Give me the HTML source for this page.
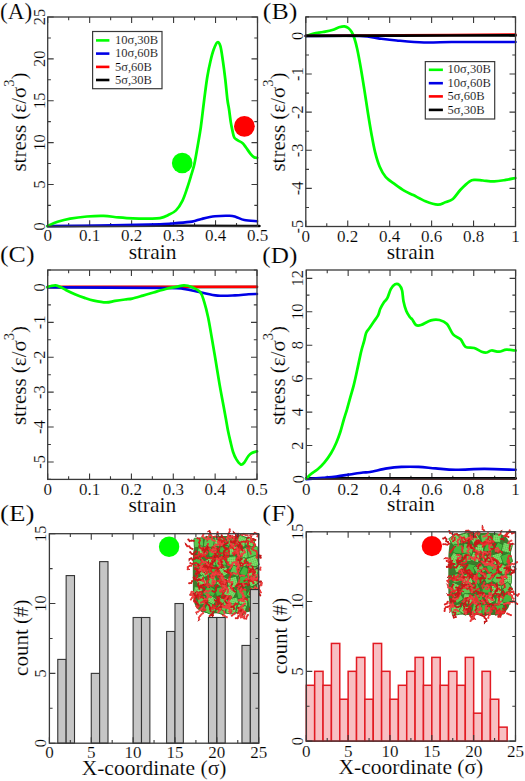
<!DOCTYPE html>
<html><head><meta charset="utf-8"><style>
html,body{margin:0;padding:0;background:#fff;width:525px;height:781px;overflow:hidden}
svg{display:block}
text{font-family:"Liberation Serif",serif;stroke:#fff;stroke-width:0.15px}
</style></head><body>
<svg width="525" height="781" viewBox="0 0 525 781" font-family="Liberation Serif, serif" fill="#000">
<defs><pattern id="cg" width="2" height="2" patternUnits="userSpaceOnUse"><rect width="2" height="2" fill="#52c848"/><path d="M0,0.5H2M0.5,0V2" stroke="#8ee07a" stroke-width="0.6"/></pattern></defs>
<rect width="525" height="781" fill="#fff"/>
<path d="M47.70,226.30L47.70,220.30 M47.70,17.00L47.70,23.00 M68.68,226.30L68.68,223.10 M68.68,17.00L68.68,20.20 M89.66,226.30L89.66,220.30 M89.66,17.00L89.66,23.00 M110.64,226.30L110.64,223.10 M110.64,17.00L110.64,20.20 M131.62,226.30L131.62,220.30 M131.62,17.00L131.62,23.00 M152.60,226.30L152.60,223.10 M152.60,17.00L152.60,20.20 M173.58,226.30L173.58,220.30 M173.58,17.00L173.58,23.00 M194.56,226.30L194.56,223.10 M194.56,17.00L194.56,20.20 M215.54,226.30L215.54,220.30 M215.54,17.00L215.54,23.00 M236.52,226.30L236.52,223.10 M236.52,17.00L236.52,20.20 M257.50,226.30L257.50,220.30 M257.50,17.00L257.50,23.00 M47.70,226.30L53.70,226.30 M257.50,226.30L251.50,226.30 M47.70,205.37L50.90,205.37 M257.50,205.37L254.30,205.37 M47.70,184.44L53.70,184.44 M257.50,184.44L251.50,184.44 M47.70,163.51L50.90,163.51 M257.50,163.51L254.30,163.51 M47.70,142.58L53.70,142.58 M257.50,142.58L251.50,142.58 M47.70,121.65L50.90,121.65 M257.50,121.65L254.30,121.65 M47.70,100.72L53.70,100.72 M257.50,100.72L251.50,100.72 M47.70,79.79L50.90,79.79 M257.50,79.79L254.30,79.79 M47.70,58.86L53.70,58.86 M257.50,58.86L251.50,58.86 M47.70,37.93L50.90,37.93 M257.50,37.93L254.30,37.93 M47.70,17.00L53.70,17.00 M257.50,17.00L251.50,17.00" stroke="#3a3a3a" stroke-width="1.1" fill="none"/>
<text x="47.70" y="241.30" text-anchor="middle" font-size="17.0">0</text>
<text x="89.66" y="241.30" text-anchor="middle" font-size="17.0">0.1</text>
<text x="131.62" y="241.30" text-anchor="middle" font-size="17.0">0.2</text>
<text x="173.58" y="241.30" text-anchor="middle" font-size="17.0">0.3</text>
<text x="215.54" y="241.30" text-anchor="middle" font-size="17.0">0.4</text>
<text x="257.50" y="241.30" text-anchor="middle" font-size="17.0">0.5</text>
<text x="44.90" y="226.30" text-anchor="middle" font-size="16.5" transform="rotate(-90 44.90 226.30)">0</text>
<text x="44.90" y="184.44" text-anchor="middle" font-size="16.5" transform="rotate(-90 44.90 184.44)">5</text>
<text x="44.90" y="142.58" text-anchor="middle" font-size="16.5" transform="rotate(-90 44.90 142.58)">10</text>
<text x="44.90" y="100.72" text-anchor="middle" font-size="16.5" transform="rotate(-90 44.90 100.72)">15</text>
<text x="44.90" y="58.86" text-anchor="middle" font-size="16.5" transform="rotate(-90 44.90 58.86)">20</text>
<text x="44.90" y="17.00" text-anchor="middle" font-size="16.5" transform="rotate(-90 44.90 17.00)">25</text>
<text x="152.60" y="258.60" text-anchor="middle" font-size="21.5">strain</text>
<text x="26.30" y="122.00" text-anchor="middle" font-size="21.0" transform="rotate(-90 26.30 122.00)">stress (&#949;/&#963;<tspan dy="-12" font-size="14.5">3</tspan><tspan dy="12">)</tspan></text>
<text x="0" y="19.4" font-size="23.5" textLength="32.2" lengthAdjust="spacingAndGlyphs">(A)</text>
<path d="M47.70,226.30 C66.42,226.22 126.28,225.85 160.00,225.80 C193.72,225.75 233.75,225.97 250.00,226.00 C266.25,226.03 256.25,226.00 257.50,226.00" fill="none" stroke="#000000" stroke-width="2.60" stroke-linejoin="round" stroke-linecap="round"/>
<path d="M47.70,226.00 C56.42,225.93 81.28,225.90 100.00,225.60 C118.72,225.30 147.60,224.60 160.00,224.20 C172.40,223.80 169.07,223.63 174.40,223.20 C179.73,222.77 187.47,222.32 192.00,221.60 C196.53,220.88 197.77,219.78 201.60,218.90 C205.43,218.02 210.32,216.82 215.00,216.30 C219.68,215.78 226.20,215.68 229.70,215.80 C233.20,215.92 233.57,216.30 236.00,217.00 C238.43,217.70 240.80,219.30 244.30,220.00 C247.80,220.70 254.88,221.00 257.00,221.20" fill="none" stroke="#0000e6" stroke-width="2.60" stroke-linejoin="round" stroke-linecap="round"/>
<path d="M47.50,226.00 C49.18,225.30 53.82,223.03 57.60,221.80 C61.38,220.57 65.32,219.48 70.20,218.60 C75.08,217.72 81.32,216.95 86.90,216.50 C92.48,216.05 98.45,215.75 103.70,215.90 C108.95,216.05 113.52,216.98 118.40,217.40 C123.28,217.82 127.77,218.20 133.00,218.40 C138.23,218.60 145.30,218.65 149.80,218.60 C154.30,218.55 156.97,218.67 160.00,218.10 C163.03,217.53 165.33,216.48 168.00,215.20 C170.67,213.92 173.60,212.80 176.00,210.40 C178.40,208.00 180.53,204.53 182.40,200.80 C184.27,197.07 185.73,192.27 187.20,188.00 C188.67,183.73 190.00,179.20 191.20,175.20 C192.40,171.20 193.33,168.80 194.40,164.00 C195.47,159.20 196.53,152.53 197.60,146.40 C198.67,140.27 199.85,133.77 200.80,127.20 C201.75,120.63 202.57,112.88 203.30,107.00 C204.03,101.12 204.50,97.10 205.20,91.90 C205.90,86.70 206.62,80.95 207.50,75.80 C208.38,70.65 209.48,65.33 210.50,61.00 C211.52,56.67 212.47,52.90 213.60,49.80 C214.73,46.70 216.17,43.02 217.30,42.40 C218.43,41.78 219.47,43.00 220.40,46.10 C221.33,49.20 222.08,55.43 222.90,61.00 C223.72,66.57 224.55,73.08 225.30,79.50 C226.05,85.92 226.78,94.58 227.40,99.50 C228.02,104.42 228.43,105.18 229.00,109.00 C229.57,112.82 230.20,118.67 230.80,122.40 C231.40,126.13 232.02,128.87 232.60,131.40 C233.18,133.93 233.42,136.10 234.30,137.60 C235.18,139.10 236.55,139.50 237.90,140.40 C239.25,141.30 241.05,141.82 242.40,143.00 C243.75,144.18 244.65,145.70 246.00,147.50 C247.35,149.30 249.15,152.18 250.50,153.80 C251.85,155.42 252.98,156.53 254.10,157.20 C255.22,157.87 256.68,157.70 257.20,157.80" fill="none" stroke="#00ff00" stroke-width="2.75" stroke-linejoin="round" stroke-linecap="round"/>
<circle cx="182.2" cy="163.0" r="10.3" fill="#00ff00"/>
<circle cx="244.4" cy="126.3" r="10.4" fill="#ff0000"/>
<rect x="92.60" y="31.50" width="69.40" height="57.20" fill="#fff" stroke="#3a3a3a" stroke-width="1.2"/>
<line x1="96.00" y1="40.40" x2="109.40" y2="40.40" stroke="#00ff00" stroke-width="2.6"/>
<text x="114.90" y="44.00" font-size="12.5">10&#963;,30B</text>
<line x1="96.00" y1="53.60" x2="109.40" y2="53.60" stroke="#0000e6" stroke-width="2.6"/>
<text x="114.90" y="57.20" font-size="12.5">10&#963;,60B</text>
<line x1="96.00" y1="66.90" x2="109.40" y2="66.90" stroke="#ff0000" stroke-width="2.6"/>
<text x="114.90" y="70.50" font-size="12.5">5&#963;,60B</text>
<line x1="96.00" y1="80.00" x2="109.40" y2="80.00" stroke="#000000" stroke-width="2.6"/>
<text x="114.90" y="83.60" font-size="12.5">5&#963;,30B</text>
<rect x="47.70" y="17.00" width="209.80" height="209.30" fill="none" stroke="#3a3a3a" stroke-width="1.3"/>
<path d="M305.80,226.50L305.80,220.50 M305.80,16.90L305.80,22.90 M326.77,226.50L326.77,223.30 M326.77,16.90L326.77,20.10 M347.74,226.50L347.74,220.50 M347.74,16.90L347.74,22.90 M368.71,226.50L368.71,223.30 M368.71,16.90L368.71,20.10 M389.68,226.50L389.68,220.50 M389.68,16.90L389.68,22.90 M410.65,226.50L410.65,223.30 M410.65,16.90L410.65,20.10 M431.62,226.50L431.62,220.50 M431.62,16.90L431.62,22.90 M452.59,226.50L452.59,223.30 M452.59,16.90L452.59,20.10 M473.56,226.50L473.56,220.50 M473.56,16.90L473.56,22.90 M494.53,226.50L494.53,223.30 M494.53,16.90L494.53,20.10 M515.50,226.50L515.50,220.50 M515.50,16.90L515.50,22.90 M305.80,226.50L311.80,226.50 M515.50,226.50L509.50,226.50 M305.80,207.45L309.00,207.45 M515.50,207.45L512.30,207.45 M305.80,188.39L311.80,188.39 M515.50,188.39L509.50,188.39 M305.80,169.34L309.00,169.34 M515.50,169.34L512.30,169.34 M305.80,150.28L311.80,150.28 M515.50,150.28L509.50,150.28 M305.80,131.23L309.00,131.23 M515.50,131.23L512.30,131.23 M305.80,112.17L311.80,112.17 M515.50,112.17L509.50,112.17 M305.80,93.12L309.00,93.12 M515.50,93.12L512.30,93.12 M305.80,74.06L311.80,74.06 M515.50,74.06L509.50,74.06 M305.80,55.01L309.00,55.01 M515.50,55.01L512.30,55.01 M305.80,35.95L311.80,35.95 M515.50,35.95L509.50,35.95 M305.80,16.90L309.00,16.90 M515.50,16.90L512.30,16.90" stroke="#3a3a3a" stroke-width="1.1" fill="none"/>
<text x="305.80" y="241.50" text-anchor="middle" font-size="17.0">0</text>
<text x="347.74" y="241.50" text-anchor="middle" font-size="17.0">0.2</text>
<text x="389.68" y="241.50" text-anchor="middle" font-size="17.0">0.4</text>
<text x="431.62" y="241.50" text-anchor="middle" font-size="17.0">0.6</text>
<text x="473.56" y="241.50" text-anchor="middle" font-size="17.0">0.8</text>
<text x="515.50" y="241.50" text-anchor="middle" font-size="17.0">1</text>
<text x="303.00" y="226.50" text-anchor="middle" font-size="16.5" transform="rotate(-90 303.00 226.50)">-5</text>
<text x="303.00" y="188.39" text-anchor="middle" font-size="16.5" transform="rotate(-90 303.00 188.39)">-4</text>
<text x="303.00" y="150.28" text-anchor="middle" font-size="16.5" transform="rotate(-90 303.00 150.28)">-3</text>
<text x="303.00" y="112.17" text-anchor="middle" font-size="16.5" transform="rotate(-90 303.00 112.17)">-2</text>
<text x="303.00" y="74.06" text-anchor="middle" font-size="16.5" transform="rotate(-90 303.00 74.06)">-1</text>
<text x="303.00" y="35.95" text-anchor="middle" font-size="16.5" transform="rotate(-90 303.00 35.95)">0</text>
<text x="410.65" y="258.80" text-anchor="middle" font-size="21.5">strain</text>
<text x="284.60" y="122.00" text-anchor="middle" font-size="21.0" transform="rotate(-90 284.60 122.00)">stress (&#949;/&#963;<tspan dy="-12" font-size="14.5">3</tspan><tspan dy="12">)</tspan></text>
<text x="262.8" y="19.2" font-size="23.5" textLength="34.5" lengthAdjust="spacingAndGlyphs">(B)</text>
<path d="M306.30,36.00 C307.53,35.62 310.92,34.37 313.70,33.70 C316.48,33.03 319.90,32.62 323.00,32.00 C326.10,31.38 329.63,30.78 332.30,30.00 C334.97,29.22 337.00,27.92 339.00,27.30 C341.00,26.68 342.75,26.18 344.30,26.30 C345.85,26.42 347.07,27.05 348.30,28.00 C349.53,28.95 350.70,30.33 351.70,32.00 C352.70,33.67 353.40,35.25 354.30,38.00 C355.20,40.75 356.02,43.52 357.10,48.50 C358.18,53.48 359.60,61.08 360.80,67.90 C362.00,74.72 363.12,81.93 364.30,89.40 C365.48,96.87 366.70,105.23 367.90,112.70 C369.10,120.17 370.30,127.62 371.50,134.20 C372.70,140.78 373.75,146.82 375.10,152.20 C376.45,157.58 377.82,162.33 379.60,166.50 C381.38,170.67 383.27,174.25 385.80,177.20 C388.33,180.15 391.75,181.97 394.80,184.20 C397.85,186.43 401.02,188.78 404.10,190.60 C407.18,192.42 409.73,193.33 413.30,195.10 C416.87,196.87 421.43,199.60 425.50,201.20 C429.57,202.80 434.40,204.52 437.70,204.70 C441.00,204.88 442.77,203.25 445.30,202.30 C447.83,201.35 450.37,201.08 452.90,199.00 C455.43,196.92 457.70,192.73 460.50,189.80 C463.30,186.87 467.28,183.05 469.70,181.40 C472.12,179.75 472.80,180.05 475.00,179.90 C477.20,179.75 479.68,180.25 482.90,180.50 C486.12,180.75 490.50,181.50 494.30,181.40 C498.10,181.30 502.22,180.47 505.70,179.90 C509.18,179.33 513.62,178.32 515.20,178.00" fill="none" stroke="#00ff00" stroke-width="2.75" stroke-linejoin="round" stroke-linecap="round"/>
<path d="M305.80,36.00 C314.83,35.98 347.92,35.50 360.00,35.90 C372.08,36.30 372.20,37.63 378.30,38.40 C384.40,39.17 388.98,39.82 396.60,40.50 C404.22,41.18 414.85,42.25 424.00,42.50 C433.15,42.75 441.83,42.08 451.50,42.00 C461.17,41.92 471.33,42.00 482.00,42.00 C492.67,42.00 509.92,42.00 515.50,42.00" fill="none" stroke="#0000e6" stroke-width="2.60" stroke-linejoin="round" stroke-linecap="round"/>
<path d="M305.80,35.90 C321.50,35.80 365.05,35.53 400.00,35.30 C434.95,35.07 496.25,34.63 515.50,34.50" fill="none" stroke="#ff0000" stroke-width="2.40" stroke-linejoin="round" stroke-linecap="round"/>
<path d="M305.80,35.90 C321.50,35.85 365.05,35.68 400.00,35.60 C434.95,35.52 496.25,35.43 515.50,35.40" fill="none" stroke="#000000" stroke-width="2.60" stroke-linejoin="round" stroke-linecap="round"/>
<rect x="425.30" y="61.60" width="69.40" height="57.40" fill="#fff" stroke="#3a3a3a" stroke-width="1.2"/>
<line x1="428.80" y1="69.80" x2="442.90" y2="69.80" stroke="#00ff00" stroke-width="2.6"/>
<text x="447.60" y="73.40" font-size="12.5">10&#963;,30B</text>
<line x1="428.80" y1="83.20" x2="442.90" y2="83.20" stroke="#0000e6" stroke-width="2.6"/>
<text x="447.60" y="86.80" font-size="12.5">10&#963;,60B</text>
<line x1="428.80" y1="96.40" x2="442.90" y2="96.40" stroke="#ff0000" stroke-width="2.6"/>
<text x="447.60" y="100.00" font-size="12.5">5&#963;,60B</text>
<line x1="428.80" y1="109.90" x2="442.90" y2="109.90" stroke="#000000" stroke-width="2.6"/>
<text x="447.60" y="113.50" font-size="12.5">5&#963;,30B</text>
<rect x="305.80" y="16.90" width="209.70" height="209.60" fill="none" stroke="#3a3a3a" stroke-width="1.3"/>
<path d="M47.70,479.40L47.70,473.40 M47.70,270.00L47.70,276.00 M68.63,479.40L68.63,476.20 M68.63,270.00L68.63,273.20 M89.56,479.40L89.56,473.40 M89.56,270.00L89.56,276.00 M110.49,479.40L110.49,476.20 M110.49,270.00L110.49,273.20 M131.42,479.40L131.42,473.40 M131.42,270.00L131.42,276.00 M152.35,479.40L152.35,476.20 M152.35,270.00L152.35,273.20 M173.28,479.40L173.28,473.40 M173.28,270.00L173.28,276.00 M194.21,479.40L194.21,476.20 M194.21,270.00L194.21,273.20 M215.14,479.40L215.14,473.40 M215.14,270.00L215.14,276.00 M236.07,479.40L236.07,476.20 M236.07,270.00L236.07,273.20 M257.00,479.40L257.00,473.40 M257.00,270.00L257.00,276.00 M47.70,479.40L50.90,479.40 M257.00,479.40L253.80,479.40 M47.70,461.95L53.70,461.95 M257.00,461.95L251.00,461.95 M47.70,444.50L50.90,444.50 M257.00,444.50L253.80,444.50 M47.70,427.05L53.70,427.05 M257.00,427.05L251.00,427.05 M47.70,409.60L50.90,409.60 M257.00,409.60L253.80,409.60 M47.70,392.15L53.70,392.15 M257.00,392.15L251.00,392.15 M47.70,374.70L50.90,374.70 M257.00,374.70L253.80,374.70 M47.70,357.25L53.70,357.25 M257.00,357.25L251.00,357.25 M47.70,339.80L50.90,339.80 M257.00,339.80L253.80,339.80 M47.70,322.35L53.70,322.35 M257.00,322.35L251.00,322.35 M47.70,304.90L50.90,304.90 M257.00,304.90L253.80,304.90 M47.70,287.45L53.70,287.45 M257.00,287.45L251.00,287.45 M47.70,270.00L50.90,270.00 M257.00,270.00L253.80,270.00" stroke="#3a3a3a" stroke-width="1.1" fill="none"/>
<text x="47.70" y="495.00" text-anchor="middle" font-size="17.0">0</text>
<text x="89.56" y="495.00" text-anchor="middle" font-size="17.0">0.1</text>
<text x="131.42" y="495.00" text-anchor="middle" font-size="17.0">0.2</text>
<text x="173.28" y="495.00" text-anchor="middle" font-size="17.0">0.3</text>
<text x="215.14" y="495.00" text-anchor="middle" font-size="17.0">0.4</text>
<text x="257.00" y="495.00" text-anchor="middle" font-size="17.0">0.5</text>
<text x="44.90" y="461.95" text-anchor="middle" font-size="16.5" transform="rotate(-90 44.90 461.95)">-5</text>
<text x="44.90" y="427.05" text-anchor="middle" font-size="16.5" transform="rotate(-90 44.90 427.05)">-4</text>
<text x="44.90" y="392.15" text-anchor="middle" font-size="16.5" transform="rotate(-90 44.90 392.15)">-3</text>
<text x="44.90" y="357.25" text-anchor="middle" font-size="16.5" transform="rotate(-90 44.90 357.25)">-2</text>
<text x="44.90" y="322.35" text-anchor="middle" font-size="16.5" transform="rotate(-90 44.90 322.35)">-1</text>
<text x="44.90" y="287.45" text-anchor="middle" font-size="16.5" transform="rotate(-90 44.90 287.45)">0</text>
<text x="152.35" y="511.70" text-anchor="middle" font-size="21.5">strain</text>
<text x="26.30" y="375.50" text-anchor="middle" font-size="21.0" transform="rotate(-90 26.30 375.50)">stress (&#949;/&#963;<tspan dy="-12" font-size="14.5">3</tspan><tspan dy="12">)</tspan></text>
<text x="0" y="261.6" font-size="23.5" textLength="34.5" lengthAdjust="spacingAndGlyphs">(C)</text>
<path d="M47.70,287.30 L257.00,287.00" fill="none" stroke="#000000" stroke-width="2.60" stroke-linejoin="round" stroke-linecap="round"/>
<path d="M47.70,286.70 L257.00,286.70" fill="none" stroke="#ff0000" stroke-width="2.40" stroke-linejoin="round" stroke-linecap="round"/>
<path d="M47.70,287.30 C67.25,287.42 142.28,287.72 165.00,288.00 C187.72,288.28 178.10,288.28 184.00,289.00 C189.90,289.72 194.78,291.20 200.40,292.30 C206.02,293.40 211.93,295.08 217.70,295.60 C223.47,296.12 229.87,295.63 235.00,295.40 C240.13,295.17 244.83,294.43 248.50,294.20 C252.17,293.97 255.58,294.03 257.00,294.00" fill="none" stroke="#0000e6" stroke-width="2.60" stroke-linejoin="round" stroke-linecap="round"/>
<path d="M47.30,287.20 C47.93,287.00 49.70,286.30 51.10,286.00 C52.50,285.70 54.18,285.25 55.70,285.40 C57.22,285.55 58.43,286.10 60.20,286.90 C61.97,287.70 63.75,288.93 66.30,290.20 C68.85,291.47 72.45,293.22 75.50,294.50 C78.55,295.78 81.55,296.88 84.60,297.90 C87.65,298.92 90.23,299.85 93.80,300.60 C97.37,301.35 102.45,302.35 106.00,302.40 C109.55,302.45 111.93,301.38 115.10,300.90 C118.27,300.42 122.15,299.88 125.00,299.50 C127.85,299.12 129.22,299.25 132.20,298.60 C135.18,297.95 139.35,296.62 142.90,295.60 C146.45,294.58 149.70,293.60 153.50,292.50 C157.30,291.40 161.88,289.93 165.70,289.00 C169.52,288.07 173.35,287.50 176.40,286.90 C179.45,286.30 181.47,285.40 184.00,285.40 C186.53,285.40 188.87,285.75 191.60,286.90 C194.33,288.05 198.30,289.80 200.40,292.30 C202.50,294.80 202.92,297.73 204.20,301.90 C205.48,306.07 206.82,311.20 208.10,317.30 C209.38,323.40 210.62,331.13 211.90,338.50 C213.18,345.87 214.52,353.82 215.80,361.50 C217.08,369.18 218.32,377.22 219.60,384.60 C220.88,391.98 222.42,399.90 223.50,405.80 C224.58,411.70 225.37,415.92 226.10,420.00 C226.83,424.08 227.18,426.73 227.90,430.30 C228.62,433.87 229.55,437.83 230.40,441.40 C231.25,444.97 232.00,448.70 233.00,451.70 C234.00,454.70 235.12,457.28 236.40,459.40 C237.68,461.52 239.42,463.83 240.70,464.40 C241.98,464.97 242.82,464.20 244.10,462.80 C245.38,461.40 247.12,457.63 248.40,456.00 C249.68,454.37 250.37,453.78 251.80,453.00 C253.23,452.22 256.13,451.58 257.00,451.30" fill="none" stroke="#00ff00" stroke-width="2.75" stroke-linejoin="round" stroke-linecap="round"/>
<rect x="47.70" y="270.00" width="209.30" height="209.40" fill="none" stroke="#3a3a3a" stroke-width="1.3"/>
<path d="M306.30,479.00L306.30,473.00 M306.30,270.00L306.30,276.00 M327.23,479.00L327.23,475.80 M327.23,270.00L327.23,273.20 M348.16,479.00L348.16,473.00 M348.16,270.00L348.16,276.00 M369.09,479.00L369.09,475.80 M369.09,270.00L369.09,273.20 M390.02,479.00L390.02,473.00 M390.02,270.00L390.02,276.00 M410.95,479.00L410.95,475.80 M410.95,270.00L410.95,273.20 M431.88,479.00L431.88,473.00 M431.88,270.00L431.88,276.00 M452.81,479.00L452.81,475.80 M452.81,270.00L452.81,273.20 M473.74,479.00L473.74,473.00 M473.74,270.00L473.74,276.00 M494.67,479.00L494.67,475.80 M494.67,270.00L494.67,273.20 M515.60,479.00L515.60,473.00 M515.60,270.00L515.60,276.00 M306.30,479.00L312.30,479.00 M515.60,479.00L509.60,479.00 M306.30,462.28L309.50,462.28 M515.60,462.28L512.40,462.28 M306.30,445.56L312.30,445.56 M515.60,445.56L509.60,445.56 M306.30,428.84L309.50,428.84 M515.60,428.84L512.40,428.84 M306.30,412.12L312.30,412.12 M515.60,412.12L509.60,412.12 M306.30,395.40L309.50,395.40 M515.60,395.40L512.40,395.40 M306.30,378.68L312.30,378.68 M515.60,378.68L509.60,378.68 M306.30,361.96L309.50,361.96 M515.60,361.96L512.40,361.96 M306.30,345.24L312.30,345.24 M515.60,345.24L509.60,345.24 M306.30,328.52L309.50,328.52 M515.60,328.52L512.40,328.52 M306.30,311.80L312.30,311.80 M515.60,311.80L509.60,311.80 M306.30,295.08L309.50,295.08 M515.60,295.08L512.40,295.08 M306.30,278.36L312.30,278.36 M515.60,278.36L509.60,278.36" stroke="#3a3a3a" stroke-width="1.1" fill="none"/>
<text x="306.30" y="494.60" text-anchor="middle" font-size="17.0">0</text>
<text x="348.16" y="494.60" text-anchor="middle" font-size="17.0">0.2</text>
<text x="390.02" y="494.60" text-anchor="middle" font-size="17.0">0.4</text>
<text x="431.88" y="494.60" text-anchor="middle" font-size="17.0">0.6</text>
<text x="473.74" y="494.60" text-anchor="middle" font-size="17.0">0.8</text>
<text x="515.60" y="494.60" text-anchor="middle" font-size="17.0">1</text>
<text x="303.50" y="479.00" text-anchor="middle" font-size="16.5" transform="rotate(-90 303.50 479.00)">0</text>
<text x="303.50" y="445.56" text-anchor="middle" font-size="16.5" transform="rotate(-90 303.50 445.56)">2</text>
<text x="303.50" y="412.12" text-anchor="middle" font-size="16.5" transform="rotate(-90 303.50 412.12)">4</text>
<text x="303.50" y="378.68" text-anchor="middle" font-size="16.5" transform="rotate(-90 303.50 378.68)">6</text>
<text x="303.50" y="345.24" text-anchor="middle" font-size="16.5" transform="rotate(-90 303.50 345.24)">8</text>
<text x="303.50" y="311.80" text-anchor="middle" font-size="16.5" transform="rotate(-90 303.50 311.80)">10</text>
<text x="303.50" y="278.36" text-anchor="middle" font-size="16.5" transform="rotate(-90 303.50 278.36)">12</text>
<text x="410.95" y="511.30" text-anchor="middle" font-size="21.5">strain</text>
<text x="284.60" y="375.50" text-anchor="middle" font-size="21.0" transform="rotate(-90 284.60 375.50)">stress (&#949;/&#963;<tspan dy="-12" font-size="14.5">3</tspan><tspan dy="12">)</tspan></text>
<text x="262.3" y="262.6" font-size="23.5" textLength="35" lengthAdjust="spacingAndGlyphs">(D)</text>
<path d="M306.30,478.60 L515.60,478.60" fill="none" stroke="#ff0000" stroke-width="2.40" stroke-linejoin="round" stroke-linecap="round"/>
<path d="M306.30,478.20 L515.60,478.20" fill="none" stroke="#000000" stroke-width="2.60" stroke-linejoin="round" stroke-linecap="round"/>
<path d="M306.30,479.20 C309.08,478.97 318.00,478.25 323.00,477.80 C328.00,477.35 331.85,477.05 336.30,476.50 C340.75,475.95 345.25,475.17 349.70,474.50 C354.15,473.83 359.62,472.92 363.00,472.50 C366.38,472.08 365.98,472.68 370.00,472.00 C374.02,471.32 381.87,469.25 387.10,468.40 C392.33,467.55 396.15,467.15 401.40,466.90 C406.65,466.65 412.88,466.65 418.60,466.90 C424.32,467.15 429.52,467.92 435.70,468.40 C441.88,468.88 447.60,469.72 455.70,469.80 C463.80,469.88 474.32,468.90 484.30,468.90 C494.28,468.90 510.38,469.65 515.60,469.80" fill="none" stroke="#0000e6" stroke-width="2.60" stroke-linejoin="round" stroke-linecap="round"/>
<path d="M306.30,478.70 C307.08,477.92 309.10,475.57 311.00,474.00 C312.90,472.43 315.48,471.18 317.70,469.30 C319.92,467.42 322.08,465.37 324.30,462.70 C326.52,460.03 329.00,456.63 331.00,453.30 C333.00,449.97 334.75,446.25 336.30,442.70 C337.85,439.15 339.07,435.78 340.30,432.00 C341.53,428.22 342.58,423.78 343.70,420.00 C344.82,416.22 345.90,413.08 347.00,409.30 C348.10,405.52 349.18,401.30 350.30,397.30 C351.42,393.30 352.58,389.72 353.70,385.30 C354.82,380.88 355.73,376.52 357.00,370.80 C358.27,365.08 360.12,355.93 361.30,351.00 C362.48,346.07 363.28,344.25 364.10,341.20 C364.92,338.15 365.27,334.93 366.20,332.70 C367.13,330.47 368.42,329.67 369.70,327.80 C370.98,325.93 372.48,323.62 373.90,321.50 C375.32,319.38 377.13,317.22 378.20,315.10 C379.27,312.98 379.37,310.90 380.30,308.80 C381.23,306.70 382.63,304.27 383.80,302.50 C384.97,300.73 386.13,300.43 387.30,298.20 C388.47,295.97 389.50,291.43 390.80,289.10 C392.10,286.77 393.68,284.90 395.10,284.20 C396.52,283.50 398.13,283.85 399.30,284.90 C400.47,285.95 401.40,287.78 402.10,290.50 C402.80,293.22 402.80,297.78 403.50,301.20 C404.20,304.62 405.22,308.32 406.30,311.00 C407.38,313.68 409.00,315.88 410.00,317.30 C411.00,318.72 411.30,318.22 412.30,319.50 C413.30,320.78 414.55,324.08 416.00,325.00 C417.45,325.92 418.52,325.78 421.00,325.00 C423.48,324.22 427.82,321.13 430.90,320.30 C433.98,319.47 436.82,319.38 439.50,320.00 C442.18,320.62 444.73,321.60 447.00,324.00 C449.27,326.40 450.83,331.85 453.10,334.40 C455.37,336.95 458.53,337.23 460.60,339.30 C462.67,341.37 463.23,345.35 465.50,346.80 C467.77,348.25 471.52,347.18 474.20,348.00 C476.88,348.82 479.53,350.95 481.60,351.70 C483.67,352.45 484.95,352.70 486.60,352.50 C488.25,352.30 489.43,350.63 491.50,350.50 C493.57,350.37 496.52,351.83 499.00,351.70 C501.48,351.57 503.63,349.90 506.40,349.70 C509.17,349.50 514.07,350.37 515.60,350.50" fill="none" stroke="#00ff00" stroke-width="2.75" stroke-linejoin="round" stroke-linecap="round"/>
<rect x="306.30" y="270.00" width="209.30" height="209.00" fill="none" stroke="#3a3a3a" stroke-width="1.3"/>
<path d="M257.7,574.6 L257.6,591.8 L257.2,597.2 L256.7,601.0 L255.9,604.0 L254.8,606.4 L253.5,608.4 L251.8,610.0 L249.8,611.2 L247.3,612.2 L244.1,612.9 L239.6,613.3 L225.3,613.4 L210.9,613.3 L206.4,612.9 L203.2,612.2 L200.7,611.2 L198.7,610.0 L197.0,608.4 L195.7,606.4 L194.6,604.0 L193.8,601.0 L193.3,597.2 L192.9,591.8 L192.8,574.7 L192.9,557.5 L193.3,552.1 L193.8,548.3 L194.6,545.3 L195.7,542.9 L197.0,540.9 L198.7,539.3 L200.7,538.1 L203.2,537.1 L206.4,536.4 L210.9,536.0 L225.2,535.9 L239.6,536.0 L244.1,536.4 L247.3,537.1 L249.8,538.1 L251.8,539.3 L253.5,540.9 L254.8,542.9 L255.9,545.3 L256.7,548.3 L257.2,552.1 L257.6,557.5Z" fill="#3f7a2c"/>
<rect x="194.1" y="538.0" width="9.3" height="9.3" rx="1" fill="#5cc850" stroke="#2a7a26" stroke-width="0.8" transform="rotate(-3 198.8 542.7)"/>
<rect x="203.9" y="537.7" width="10.3" height="10.3" rx="1" fill="#5cc850" stroke="#2a7a26" stroke-width="0.8" transform="rotate(9 209.0 542.9)"/>
<rect x="214.2" y="536.5" width="10.1" height="10.1" rx="1" fill="url(#cg)" stroke="#2a7a26" stroke-width="0.8" transform="rotate(3 219.3 541.6)"/>
<rect x="226.1" y="537.2" width="10.3" height="10.3" rx="1" fill="#5cc850" stroke="#2a7a26" stroke-width="0.8" transform="rotate(33 231.3 542.4)"/>
<rect x="236.7" y="536.2" width="9.8" height="9.8" rx="1" fill="url(#cg)" stroke="#2a7a26" stroke-width="0.8" transform="rotate(23 241.6 541.1)"/>
<rect x="245.9" y="537.9" width="8.4" height="8.4" rx="1" fill="url(#cg)" stroke="#2a7a26" stroke-width="0.8" transform="rotate(19 250.1 542.1)"/>
<rect x="197.8" y="546.3" width="9.1" height="9.1" rx="1" fill="url(#cg)" stroke="#2a7a26" stroke-width="0.8" transform="rotate(10 202.3 550.9)"/>
<rect x="208.6" y="547.0" width="9.4" height="9.4" rx="1" fill="#45b83d" stroke="#2a7a26" stroke-width="0.8" transform="rotate(-7 213.3 551.7)"/>
<rect x="219.8" y="546.1" width="9.6" height="9.6" rx="1" fill="#45b83d" stroke="#2a7a26" stroke-width="0.8" transform="rotate(-13 224.6 550.9)"/>
<rect x="228.9" y="546.0" width="8.8" height="8.8" rx="1" fill="url(#cg)" stroke="#2a7a26" stroke-width="0.8" transform="rotate(-7 233.3 550.5)"/>
<rect x="239.7" y="548.2" width="10.2" height="10.2" rx="1" fill="url(#cg)" stroke="#2a7a26" stroke-width="0.8" transform="rotate(-20 244.9 553.3)"/>
<rect x="247.6" y="546.8" width="10.4" height="10.4" rx="1" fill="#5cc850" stroke="#2a7a26" stroke-width="0.8" transform="rotate(-6 252.8 552.0)"/>
<rect x="194.5" y="557.6" width="9.6" height="9.6" rx="1" fill="#45b83d" stroke="#2a7a26" stroke-width="0.8" transform="rotate(-29 199.3 562.4)"/>
<rect x="206.9" y="557.8" width="9.1" height="9.1" rx="1" fill="url(#cg)" stroke="#2a7a26" stroke-width="0.8" transform="rotate(-26 211.4 562.3)"/>
<rect x="215.2" y="557.1" width="9.9" height="9.9" rx="1" fill="#5cc850" stroke="#2a7a26" stroke-width="0.8" transform="rotate(-23 220.2 562.0)"/>
<rect x="226.9" y="556.4" width="9.6" height="9.6" rx="1" fill="url(#cg)" stroke="#2a7a26" stroke-width="0.8" transform="rotate(-6 231.7 561.2)"/>
<rect x="237.3" y="558.3" width="9.2" height="9.2" rx="1" fill="url(#cg)" stroke="#2a7a26" stroke-width="0.8" transform="rotate(-16 241.9 562.9)"/>
<rect x="247.5" y="556.7" width="10.5" height="10.5" rx="1" fill="url(#cg)" stroke="#2a7a26" stroke-width="0.8" transform="rotate(-20 252.7 561.9)"/>
<rect x="199.7" y="567.6" width="9.2" height="9.2" rx="1" fill="url(#cg)" stroke="#2a7a26" stroke-width="0.8" transform="rotate(-32 204.3 572.2)"/>
<rect x="209.3" y="566.0" width="8.6" height="8.6" rx="1" fill="#45b83d" stroke="#2a7a26" stroke-width="0.8" transform="rotate(23 213.6 570.4)"/>
<rect x="219.0" y="566.5" width="9.2" height="9.2" rx="1" fill="url(#cg)" stroke="#2a7a26" stroke-width="0.8" transform="rotate(-34 223.6 571.1)"/>
<rect x="230.9" y="566.3" width="9.1" height="9.1" rx="1" fill="#5cc850" stroke="#2a7a26" stroke-width="0.8" transform="rotate(23 235.5 570.9)"/>
<rect x="240.9" y="567.5" width="8.6" height="8.6" rx="1" fill="#45b83d" stroke="#2a7a26" stroke-width="0.8" transform="rotate(29 245.2 571.8)"/>
<rect x="247.8" y="566.5" width="10.2" height="10.2" rx="1" fill="url(#cg)" stroke="#2a7a26" stroke-width="0.8" transform="rotate(13 252.9 571.6)"/>
<rect x="196.4" y="576.3" width="9.2" height="9.2" rx="1" fill="url(#cg)" stroke="#2a7a26" stroke-width="0.8" transform="rotate(-28 201.0 580.9)"/>
<rect x="208.1" y="576.7" width="8.4" height="8.4" rx="1" fill="#5cc850" stroke="#2a7a26" stroke-width="0.8" transform="rotate(-17 212.3 580.8)"/>
<rect x="217.8" y="576.8" width="10.2" height="10.2" rx="1" fill="url(#cg)" stroke="#2a7a26" stroke-width="0.8" transform="rotate(30 222.9 581.9)"/>
<rect x="227.3" y="577.2" width="10.5" height="10.5" rx="1" fill="url(#cg)" stroke="#2a7a26" stroke-width="0.8" transform="rotate(-15 232.6 582.5)"/>
<rect x="238.1" y="576.1" width="10.4" height="10.4" rx="1" fill="#45b83d" stroke="#2a7a26" stroke-width="0.8" transform="rotate(-6 243.3 581.3)"/>
<rect x="248.3" y="576.8" width="8.9" height="8.9" rx="1" fill="url(#cg)" stroke="#2a7a26" stroke-width="0.8" transform="rotate(-29 252.7 581.2)"/>
<rect x="193.9" y="586.9" width="8.6" height="8.6" rx="1" fill="url(#cg)" stroke="#2a7a26" stroke-width="0.8" transform="rotate(6 198.2 591.3)"/>
<rect x="204.5" y="587.0" width="10.4" height="10.4" rx="1" fill="#45b83d" stroke="#2a7a26" stroke-width="0.8" transform="rotate(32 209.8 592.2)"/>
<rect x="215.5" y="587.3" width="8.3" height="8.3" rx="1" fill="#45b83d" stroke="#2a7a26" stroke-width="0.8" transform="rotate(-13 219.7 591.5)"/>
<rect x="224.8" y="587.5" width="10.6" height="10.6" rx="1" fill="url(#cg)" stroke="#2a7a26" stroke-width="0.8" transform="rotate(28 230.1 592.8)"/>
<rect x="236.9" y="588.1" width="10.0" height="10.0" rx="1" fill="#45b83d" stroke="#2a7a26" stroke-width="0.8" transform="rotate(-10 241.9 593.1)"/>
<rect x="248.0" y="588.2" width="9.9" height="9.9" rx="1" fill="#5cc850" stroke="#2a7a26" stroke-width="0.8" transform="rotate(31 252.9 593.2)"/>
<rect x="197.6" y="596.3" width="8.4" height="8.4" rx="1" fill="#5cc850" stroke="#2a7a26" stroke-width="0.8" transform="rotate(-8 201.8 600.4)"/>
<rect x="207.2" y="596.4" width="8.3" height="8.3" rx="1" fill="url(#cg)" stroke="#2a7a26" stroke-width="0.8" transform="rotate(35 211.3 600.6)"/>
<rect x="219.3" y="597.2" width="10.3" height="10.3" rx="1" fill="#5cc850" stroke="#2a7a26" stroke-width="0.8" transform="rotate(-4 224.5 602.3)"/>
<rect x="228.4" y="598.0" width="10.2" height="10.2" rx="1" fill="url(#cg)" stroke="#2a7a26" stroke-width="0.8" transform="rotate(-13 233.5 603.1)"/>
<rect x="238.9" y="598.5" width="8.5" height="8.5" rx="1" fill="url(#cg)" stroke="#2a7a26" stroke-width="0.8" transform="rotate(-0 243.1 602.8)"/>
<rect x="248.3" y="596.8" width="9.7" height="9.7" rx="1" fill="url(#cg)" stroke="#2a7a26" stroke-width="0.8" transform="rotate(-9 253.1 601.7)"/>
<rect x="205.4" y="603.8" width="10.0" height="10.0" rx="1" fill="#5cc850" stroke="#2a7a26" stroke-width="0.8" transform="rotate(27 210.4 608.8)"/>
<rect x="216.8" y="604.7" width="9.1" height="9.1" rx="1" fill="#5cc850" stroke="#2a7a26" stroke-width="0.8" transform="rotate(21 221.3 609.3)"/>
<rect x="226.3" y="603.8" width="10.0" height="10.0" rx="1" fill="url(#cg)" stroke="#2a7a26" stroke-width="0.8" transform="rotate(6 231.3 608.8)"/>
<rect x="236.7" y="604.8" width="9.0" height="9.0" rx="1" fill="url(#cg)" stroke="#2a7a26" stroke-width="0.8" transform="rotate(15 241.2 609.3)"/>
<path d=" M221.4,553.4 L219.4,553.4 L217.9,552.1 L218.3,550.2 L219.5,548.6 L219.6,546.6 M204.1,600.9 L205.6,599.7 L207.5,600.2 L207.6,602.2 M220.7,579.4 L219.6,581.1 L217.6,580.7 M248.6,580.6 L250.3,579.5 L251.8,578.2 M203.4,547.9 L201.5,548.5 L199.7,547.6 L199.5,545.6 M226.4,581.1 L228.4,581.4 L229.5,579.7 L229.3,577.7 M230.7,545.5 L230.9,547.5 L232.9,547.9 L234.0,549.6 L236.0,549.4 M217.6,532.3 L217.6,534.3 L218.9,535.8 M198.6,598.7 L197.7,596.9 L199.4,595.9 L200.6,597.5 L202.4,596.6 L203.8,598.1 M196.5,572.9 L197.2,574.7 L197.2,576.7 L195.9,578.2 L193.9,578.7 M221.2,605.0 L220.9,603.0 L219.4,601.8 L219.5,599.8 L218.9,597.9 L219.2,595.9 M220.7,583.6 L219.6,581.9 L220.3,580.1 L219.8,578.1 L218.3,576.8 M236.8,550.6 L238.4,549.5 L239.6,547.8 L239.7,545.8 L241.7,545.9 M255.2,572.0 L253.3,572.6 L252.9,574.6 L254.8,575.3 M248.6,563.8 L247.6,562.1 L245.7,562.9 L244.6,561.2 L245.8,559.6 M201.5,591.8 L199.5,592.3 L197.5,592.6 M234.2,554.9 L234.5,552.9 L236.1,551.7 L237.9,550.9 L237.5,548.9 M213.0,605.1 L212.7,607.1 L210.8,607.9 L209.4,609.2 M246.7,540.4 L245.7,542.1 L243.8,541.5 L241.8,541.8 L239.9,542.3 M217.9,559.2 L219.9,559.4 L221.0,561.1 L220.7,563.1 L218.9,564.0 M205.3,609.8 L203.3,610.0 L202.0,611.5 M210.8,558.1 L212.8,557.7 L213.6,555.9 L215.6,555.9 L217.2,557.1 L218.6,555.6 M204.2,555.9 L202.3,556.1 L200.4,555.3 L198.5,554.8 L197.5,556.5 M229.0,551.7 L228.5,549.7 L226.7,548.8 L225.2,547.5 L223.7,546.2 M247.0,599.7 L245.3,598.6 L243.4,599.1 L241.4,599.6 M253.5,583.2 L252.7,581.4 L250.7,580.9 L248.8,581.2 L248.8,583.2 L249.4,585.1 M242.6,613.0 L242.0,615.0 L240.0,615.2 L238.3,616.2 L237.7,618.2 L235.8,618.3 M230.4,603.8 L228.4,603.6 L227.0,605.1 M248.8,572.6 L250.7,572.0 L250.3,570.1 L249.2,568.4 L247.5,567.4 M216.3,603.3 L216.9,605.2 L215.1,605.9 L214.8,607.9 L216.4,609.2 L218.4,608.8 M209.3,566.6 L207.3,566.2 L205.6,567.3 L204.8,569.1 L206.0,570.8 L207.0,572.5 M196.2,563.0 L194.2,563.4 L192.3,563.9 L190.4,563.2 M248.5,541.4 L247.9,543.3 L247.7,545.2 L249.4,546.3 L248.9,548.3 M220.8,606.1 L219.2,607.3 L217.4,608.2 M237.4,604.0 L235.5,603.4 L234.6,605.2 L233.0,606.4 L231.1,607.1 M237.8,613.4 L238.6,611.6 L240.6,611.5 L242.5,612.3 L244.3,613.0 M197.5,538.3 L199.5,538.7 L199.9,540.6 L199.0,542.4 L199.6,544.3 M208.9,566.7 L209.0,568.7 L211.0,568.9 L210.8,570.9 L212.3,572.3 L213.1,574.1 M207.1,562.8 L206.7,564.8 L204.7,564.7 L202.9,565.6 M218.4,540.0 L219.7,541.5 L221.5,540.7 L222.9,542.2 L222.7,544.2 L224.5,545.0 M250.7,588.8 L250.7,590.8 L249.7,592.5 M226.0,556.6 L226.3,558.6 L224.3,558.8 L222.3,558.5 L221.1,560.1 L222.2,561.8 M203.1,578.1 L202.9,580.1 L200.9,579.9 L199.0,579.2 L197.7,580.7 L196.2,579.4 M215.1,555.9 L213.3,556.8 L213.5,558.8 L212.2,560.3 L211.7,562.2 M244.7,563.1 L243.1,564.2 L241.5,562.9 M202.0,593.8 L200.2,594.5 L198.3,595.3 L196.4,595.8 L195.1,594.3 L195.5,592.3 M194.4,556.4 L196.2,557.3 L197.9,558.4 L199.9,558.5 L200.9,556.8 M208.0,575.5 L208.4,577.5 L208.6,579.5 L207.3,581.0 M215.0,560.8 L215.2,558.9 L214.8,556.9 M250.8,592.4 L249.9,594.2 L251.5,595.4 M226.0,597.2 L227.9,597.9 L229.0,596.2 L230.9,595.9 M213.0,615.3 L211.1,614.6 L209.7,616.0 M252.1,571.4 L253.8,570.3 L255.7,569.8 M219.8,582.8 L220.6,581.0 L222.5,581.4 L223.0,583.4 L221.3,584.5 L221.4,586.5 M208.2,569.2 L209.3,567.6 L209.8,565.6 L207.9,564.9 M210.0,550.5 L212.0,550.6 L213.7,551.6 L214.7,553.4 L216.2,554.7 M222.7,592.6 L223.5,594.5 L221.9,595.7 M219.8,572.4 L218.8,570.6 L217.5,569.1 L216.0,570.5 L216.9,572.2 M222.8,537.5 L224.4,538.6 L223.9,540.6 L221.9,540.5 L220.2,539.5 L218.2,539.6 M192.3,548.9 L190.5,548.0 L189.3,546.4 L187.3,546.3 L186.1,544.7 L185.1,543.0 M229.7,569.0 L227.9,569.9 L228.5,571.8 L230.1,573.0 L230.6,574.9 L230.0,576.9 M223.2,557.1 L224.6,555.6 L226.1,556.9 L228.0,556.6 L229.1,554.9 M240.5,544.1 L238.7,544.9 L236.9,543.9 L235.1,544.6 L235.7,546.5 M226.9,562.2 L225.8,560.5 L226.2,558.5 L226.3,556.5 L225.7,554.6 L225.4,552.6 M205.3,556.8 L206.6,558.3 L208.6,558.0 M189.2,583.2 L191.2,583.0 L192.1,581.1 M216.2,548.8 L214.2,548.6 L212.8,547.3 L211.2,548.5 M218.3,563.2 L220.0,564.2 L221.2,562.5" fill="none" stroke="#a01818" stroke-width="1.0" stroke-linecap="round" stroke-linejoin="round"/>
<path d=" M221.4,553.4 L219.4,553.4 L217.9,552.1 L218.3,550.2 L219.5,548.6 L219.6,546.6 M204.1,600.9 L205.6,599.7 L207.5,600.2 L207.6,602.2 M220.7,579.4 L219.6,581.1 L217.6,580.7 M248.6,580.6 L250.3,579.5 L251.8,578.2 M203.4,547.9 L201.5,548.5 L199.7,547.6 L199.5,545.6 M226.4,581.1 L228.4,581.4 L229.5,579.7 L229.3,577.7 M230.7,545.5 L230.9,547.5 L232.9,547.9 L234.0,549.6 L236.0,549.4 M217.6,532.3 L217.6,534.3 L218.9,535.8 M198.6,598.7 L197.7,596.9 L199.4,595.9 L200.6,597.5 L202.4,596.6 L203.8,598.1 M196.5,572.9 L197.2,574.7 L197.2,576.7 L195.9,578.2 L193.9,578.7 M221.2,605.0 L220.9,603.0 L219.4,601.8 L219.5,599.8 L218.9,597.9 L219.2,595.9 M220.7,583.6 L219.6,581.9 L220.3,580.1 L219.8,578.1 L218.3,576.8 M236.8,550.6 L238.4,549.5 L239.6,547.8 L239.7,545.8 L241.7,545.9 M255.2,572.0 L253.3,572.6 L252.9,574.6 L254.8,575.3 M248.6,563.8 L247.6,562.1 L245.7,562.9 L244.6,561.2 L245.8,559.6 M201.5,591.8 L199.5,592.3 L197.5,592.6 M234.2,554.9 L234.5,552.9 L236.1,551.7 L237.9,550.9 L237.5,548.9 M213.0,605.1 L212.7,607.1 L210.8,607.9 L209.4,609.2 M246.7,540.4 L245.7,542.1 L243.8,541.5 L241.8,541.8 L239.9,542.3 M217.9,559.2 L219.9,559.4 L221.0,561.1 L220.7,563.1 L218.9,564.0 M205.3,609.8 L203.3,610.0 L202.0,611.5 M210.8,558.1 L212.8,557.7 L213.6,555.9 L215.6,555.9 L217.2,557.1 L218.6,555.6 M204.2,555.9 L202.3,556.1 L200.4,555.3 L198.5,554.8 L197.5,556.5 M229.0,551.7 L228.5,549.7 L226.7,548.8 L225.2,547.5 L223.7,546.2 M247.0,599.7 L245.3,598.6 L243.4,599.1 L241.4,599.6 M253.5,583.2 L252.7,581.4 L250.7,580.9 L248.8,581.2 L248.8,583.2 L249.4,585.1 M242.6,613.0 L242.0,615.0 L240.0,615.2 L238.3,616.2 L237.7,618.2 L235.8,618.3 M230.4,603.8 L228.4,603.6 L227.0,605.1 M248.8,572.6 L250.7,572.0 L250.3,570.1 L249.2,568.4 L247.5,567.4 M216.3,603.3 L216.9,605.2 L215.1,605.9 L214.8,607.9 L216.4,609.2 L218.4,608.8 M209.3,566.6 L207.3,566.2 L205.6,567.3 L204.8,569.1 L206.0,570.8 L207.0,572.5 M196.2,563.0 L194.2,563.4 L192.3,563.9 L190.4,563.2 M248.5,541.4 L247.9,543.3 L247.7,545.2 L249.4,546.3 L248.9,548.3 M220.8,606.1 L219.2,607.3 L217.4,608.2 M237.4,604.0 L235.5,603.4 L234.6,605.2 L233.0,606.4 L231.1,607.1 M237.8,613.4 L238.6,611.6 L240.6,611.5 L242.5,612.3 L244.3,613.0 M197.5,538.3 L199.5,538.7 L199.9,540.6 L199.0,542.4 L199.6,544.3 M208.9,566.7 L209.0,568.7 L211.0,568.9 L210.8,570.9 L212.3,572.3 L213.1,574.1 M207.1,562.8 L206.7,564.8 L204.7,564.7 L202.9,565.6 M218.4,540.0 L219.7,541.5 L221.5,540.7 L222.9,542.2 L222.7,544.2 L224.5,545.0 M250.7,588.8 L250.7,590.8 L249.7,592.5 M226.0,556.6 L226.3,558.6 L224.3,558.8 L222.3,558.5 L221.1,560.1 L222.2,561.8 M203.1,578.1 L202.9,580.1 L200.9,579.9 L199.0,579.2 L197.7,580.7 L196.2,579.4 M215.1,555.9 L213.3,556.8 L213.5,558.8 L212.2,560.3 L211.7,562.2 M244.7,563.1 L243.1,564.2 L241.5,562.9 M202.0,593.8 L200.2,594.5 L198.3,595.3 L196.4,595.8 L195.1,594.3 L195.5,592.3 M194.4,556.4 L196.2,557.3 L197.9,558.4 L199.9,558.5 L200.9,556.8 M208.0,575.5 L208.4,577.5 L208.6,579.5 L207.3,581.0 M215.0,560.8 L215.2,558.9 L214.8,556.9 M250.8,592.4 L249.9,594.2 L251.5,595.4 M226.0,597.2 L227.9,597.9 L229.0,596.2 L230.9,595.9 M213.0,615.3 L211.1,614.6 L209.7,616.0 M252.1,571.4 L253.8,570.3 L255.7,569.8 M219.8,582.8 L220.6,581.0 L222.5,581.4 L223.0,583.4 L221.3,584.5 L221.4,586.5 M208.2,569.2 L209.3,567.6 L209.8,565.6 L207.9,564.9 M210.0,550.5 L212.0,550.6 L213.7,551.6 L214.7,553.4 L216.2,554.7 M222.7,592.6 L223.5,594.5 L221.9,595.7 M219.8,572.4 L218.8,570.6 L217.5,569.1 L216.0,570.5 L216.9,572.2 M222.8,537.5 L224.4,538.6 L223.9,540.6 L221.9,540.5 L220.2,539.5 L218.2,539.6 M192.3,548.9 L190.5,548.0 L189.3,546.4 L187.3,546.3 L186.1,544.7 L185.1,543.0 M229.7,569.0 L227.9,569.9 L228.5,571.8 L230.1,573.0 L230.6,574.9 L230.0,576.9 M223.2,557.1 L224.6,555.6 L226.1,556.9 L228.0,556.6 L229.1,554.9 M240.5,544.1 L238.7,544.9 L236.9,543.9 L235.1,544.6 L235.7,546.5 M226.9,562.2 L225.8,560.5 L226.2,558.5 L226.3,556.5 L225.7,554.6 L225.4,552.6 M205.3,556.8 L206.6,558.3 L208.6,558.0 M189.2,583.2 L191.2,583.0 L192.1,581.1 M216.2,548.8 L214.2,548.6 L212.8,547.3 L211.2,548.5 M218.3,563.2 L220.0,564.2 L221.2,562.5" fill="none" stroke="#dd2020" stroke-width="2.1" stroke-linecap="round" stroke-dasharray="0.1 1.9"/>
<path d=" M250.7,553.7 L250.3,551.8 L248.8,550.4 L249.0,548.4 L247.0,548.2 M196.6,570.3 L198.4,569.5 L200.4,569.6 L202.4,569.8 L203.3,571.6 L204.9,572.8 M239.0,569.0 L238.5,567.1 L237.7,565.3 M205.6,574.0 L207.3,573.0 L206.9,571.0 L205.9,569.2 L204.1,570.0 L203.3,571.9 M256.5,557.3 L258.3,558.1 L260.0,557.0 L259.4,555.1 M238.7,582.2 L239.5,580.3 L239.2,578.4 M228.3,562.4 L227.7,564.3 L229.5,565.2 L231.5,565.2 M212.9,578.5 L211.2,577.4 L211.2,575.4 M219.8,572.5 L217.8,573.0 L216.1,572.0 M201.2,553.8 L202.5,555.4 L204.1,554.3 L203.4,552.4 M215.1,536.6 L217.0,537.2 L218.8,538.1 M205.7,561.6 L204.1,562.7 L202.2,562.0 L201.3,560.2 L199.8,558.9 L197.9,558.2 M238.6,574.1 L237.7,572.3 L238.8,570.6 M222.1,582.6 L223.5,581.2 L224.3,579.4 M205.6,567.2 L205.8,569.2 L203.9,569.9 L202.3,568.8 L200.6,569.8 M198.7,606.0 L197.6,607.7 L196.0,606.6 M201.1,563.0 L200.0,564.7 L198.1,565.2 L196.7,566.7 L194.8,566.2 M212.2,566.4 L211.0,564.8 L211.5,562.9 L212.9,561.4 L214.7,560.6 M256.6,578.7 L255.0,580.0 L253.0,579.8 L252.6,577.8 L251.3,576.3 M217.7,574.4 L215.8,574.7 L213.8,575.2 L213.4,573.2 L215.0,571.9 L216.8,572.8 M210.2,564.8 L210.2,566.8 L210.6,568.7 L209.2,570.2 L209.5,572.2 M211.0,608.5 L212.9,608.9 L214.5,607.7 L215.9,609.2 M219.3,581.1 L220.6,579.6 L220.5,577.6 L220.8,575.6 M230.9,609.8 L231.4,611.7 L230.1,613.3 M237.6,583.7 L237.6,585.7 L239.2,586.9 L238.1,588.6 L239.7,589.8 L241.3,591.0 M205.6,602.3 L204.6,604.0 L203.8,605.8 L204.1,607.8 L204.8,609.7 L202.9,610.4 M238.4,556.0 L237.6,557.9 L236.4,559.4 L237.8,560.8 M239.9,590.4 L241.9,590.5 L243.5,589.2 L245.4,589.8 M191.4,565.6 L189.4,565.9 L187.8,567.2 L187.7,569.1 L189.6,569.4 M239.2,549.6 L238.7,551.6 L237.9,553.4 L235.9,553.5 L234.5,552.0 L232.8,553.1 M194.4,594.0 L194.8,595.9 L194.5,597.9 L194.6,599.9 L195.0,601.9 L196.2,603.4 M247.8,615.0 L246.7,616.7 L246.3,618.6 L244.3,618.5 L244.4,616.5 M207.4,581.1 L207.3,583.1 L207.3,585.1 L208.1,587.0 L209.9,587.7 M238.8,553.1 L237.0,552.3 L236.2,554.1 M207.0,547.6 L208.8,548.5 L209.9,550.2 L211.9,550.2 M230.5,538.3 L229.4,536.6 L228.1,535.0 L228.9,533.2 L229.7,531.4 L229.7,529.4 M249.1,570.3 L250.3,568.8 L252.0,569.9 L253.9,569.4 M254.4,596.1 L252.9,594.9 L253.1,592.9 L254.4,591.4 L256.4,592.0 L256.1,594.0 M241.0,549.7 L239.0,549.5 L238.4,551.4 L237.0,552.8 L237.2,554.8 M237.5,570.2 L237.2,568.3 L238.2,566.6 M231.8,574.4 L230.5,572.9 L228.7,573.8 M225.5,541.1 L226.9,542.5 L228.4,541.2 M207.2,584.1 L209.2,584.4 L210.8,585.6 L212.8,585.8 L213.7,584.0 L213.4,582.0 M252.8,547.6 L254.3,546.3 L255.1,544.5 L253.6,543.2 L252.4,541.6 L250.5,542.3 M242.9,606.3 L241.0,606.8 L239.3,607.9 M237.0,563.1 L236.6,561.1 L238.2,559.9 L239.1,558.1 L240.4,556.6 L241.7,555.0 M194.1,601.4 L196.1,601.5 L197.3,603.1 L198.2,604.9 L196.6,606.2 M227.9,589.7 L227.0,587.9 L225.8,586.4 L226.2,584.4 L227.4,582.9 M220.4,591.6 L222.0,590.5 L223.6,591.7 L225.3,590.6 L224.9,588.6 L223.0,587.9 M218.1,559.1 L219.7,557.9 L221.5,557.1 L223.4,556.5 M205.4,548.0 L207.2,549.0 L208.5,547.4 L207.2,545.9 L207.9,544.0 M239.1,610.7 L240.5,609.4 L242.5,609.3 L243.0,611.3 L245.0,611.7 L245.3,613.7 M228.6,554.1 L227.3,552.6 L225.7,553.8 L224.5,555.4 M199.7,595.7 L199.0,593.9 L197.4,592.6 L196.5,590.9 M201.6,587.2 L199.9,586.2 L198.1,585.3 M198.9,552.0 L199.1,554.0 L198.2,555.7 L196.2,556.2 L195.7,554.3 M257.1,554.9 L257.3,552.9 L256.3,551.1 L254.5,550.4 L252.7,549.5 L250.9,548.7 M231.8,615.7 L233.4,614.5 L234.9,613.1 M231.2,597.2 L230.1,598.9 L228.3,599.6 M206.6,585.4 L204.6,585.1 L202.6,585.2 L200.6,585.3 M250.7,563.4 L249.3,564.7 L248.3,566.5 M234.5,541.7 L232.6,541.2 L231.2,542.6 L231.7,544.6 L231.6,546.6 L230.0,547.8 M218.8,543.8 L220.0,545.4 L221.1,547.0 M251.2,534.5 L253.2,534.2 L254.7,532.9 L256.5,533.7 L258.3,534.6 L257.4,536.4 M201.1,602.6 L202.9,601.7 L204.6,602.7 L206.2,601.5 L206.2,599.5 M204.9,554.8 L206.6,553.9 L207.6,552.1 L205.9,551.2 L203.9,550.8 L202.1,549.8 M250.5,541.4 L252.1,540.3 L254.1,540.1 M234.2,545.7 L235.8,544.6 L236.3,542.7 L237.8,541.3 L237.2,539.3 L238.4,537.8" fill="none" stroke="#a01818" stroke-width="1.0" stroke-linecap="round" stroke-linejoin="round"/>
<path d=" M250.7,553.7 L250.3,551.8 L248.8,550.4 L249.0,548.4 L247.0,548.2 M196.6,570.3 L198.4,569.5 L200.4,569.6 L202.4,569.8 L203.3,571.6 L204.9,572.8 M239.0,569.0 L238.5,567.1 L237.7,565.3 M205.6,574.0 L207.3,573.0 L206.9,571.0 L205.9,569.2 L204.1,570.0 L203.3,571.9 M256.5,557.3 L258.3,558.1 L260.0,557.0 L259.4,555.1 M238.7,582.2 L239.5,580.3 L239.2,578.4 M228.3,562.4 L227.7,564.3 L229.5,565.2 L231.5,565.2 M212.9,578.5 L211.2,577.4 L211.2,575.4 M219.8,572.5 L217.8,573.0 L216.1,572.0 M201.2,553.8 L202.5,555.4 L204.1,554.3 L203.4,552.4 M215.1,536.6 L217.0,537.2 L218.8,538.1 M205.7,561.6 L204.1,562.7 L202.2,562.0 L201.3,560.2 L199.8,558.9 L197.9,558.2 M238.6,574.1 L237.7,572.3 L238.8,570.6 M222.1,582.6 L223.5,581.2 L224.3,579.4 M205.6,567.2 L205.8,569.2 L203.9,569.9 L202.3,568.8 L200.6,569.8 M198.7,606.0 L197.6,607.7 L196.0,606.6 M201.1,563.0 L200.0,564.7 L198.1,565.2 L196.7,566.7 L194.8,566.2 M212.2,566.4 L211.0,564.8 L211.5,562.9 L212.9,561.4 L214.7,560.6 M256.6,578.7 L255.0,580.0 L253.0,579.8 L252.6,577.8 L251.3,576.3 M217.7,574.4 L215.8,574.7 L213.8,575.2 L213.4,573.2 L215.0,571.9 L216.8,572.8 M210.2,564.8 L210.2,566.8 L210.6,568.7 L209.2,570.2 L209.5,572.2 M211.0,608.5 L212.9,608.9 L214.5,607.7 L215.9,609.2 M219.3,581.1 L220.6,579.6 L220.5,577.6 L220.8,575.6 M230.9,609.8 L231.4,611.7 L230.1,613.3 M237.6,583.7 L237.6,585.7 L239.2,586.9 L238.1,588.6 L239.7,589.8 L241.3,591.0 M205.6,602.3 L204.6,604.0 L203.8,605.8 L204.1,607.8 L204.8,609.7 L202.9,610.4 M238.4,556.0 L237.6,557.9 L236.4,559.4 L237.8,560.8 M239.9,590.4 L241.9,590.5 L243.5,589.2 L245.4,589.8 M191.4,565.6 L189.4,565.9 L187.8,567.2 L187.7,569.1 L189.6,569.4 M239.2,549.6 L238.7,551.6 L237.9,553.4 L235.9,553.5 L234.5,552.0 L232.8,553.1 M194.4,594.0 L194.8,595.9 L194.5,597.9 L194.6,599.9 L195.0,601.9 L196.2,603.4 M247.8,615.0 L246.7,616.7 L246.3,618.6 L244.3,618.5 L244.4,616.5 M207.4,581.1 L207.3,583.1 L207.3,585.1 L208.1,587.0 L209.9,587.7 M238.8,553.1 L237.0,552.3 L236.2,554.1 M207.0,547.6 L208.8,548.5 L209.9,550.2 L211.9,550.2 M230.5,538.3 L229.4,536.6 L228.1,535.0 L228.9,533.2 L229.7,531.4 L229.7,529.4 M249.1,570.3 L250.3,568.8 L252.0,569.9 L253.9,569.4 M254.4,596.1 L252.9,594.9 L253.1,592.9 L254.4,591.4 L256.4,592.0 L256.1,594.0 M241.0,549.7 L239.0,549.5 L238.4,551.4 L237.0,552.8 L237.2,554.8 M237.5,570.2 L237.2,568.3 L238.2,566.6 M231.8,574.4 L230.5,572.9 L228.7,573.8 M225.5,541.1 L226.9,542.5 L228.4,541.2 M207.2,584.1 L209.2,584.4 L210.8,585.6 L212.8,585.8 L213.7,584.0 L213.4,582.0 M252.8,547.6 L254.3,546.3 L255.1,544.5 L253.6,543.2 L252.4,541.6 L250.5,542.3 M242.9,606.3 L241.0,606.8 L239.3,607.9 M237.0,563.1 L236.6,561.1 L238.2,559.9 L239.1,558.1 L240.4,556.6 L241.7,555.0 M194.1,601.4 L196.1,601.5 L197.3,603.1 L198.2,604.9 L196.6,606.2 M227.9,589.7 L227.0,587.9 L225.8,586.4 L226.2,584.4 L227.4,582.9 M220.4,591.6 L222.0,590.5 L223.6,591.7 L225.3,590.6 L224.9,588.6 L223.0,587.9 M218.1,559.1 L219.7,557.9 L221.5,557.1 L223.4,556.5 M205.4,548.0 L207.2,549.0 L208.5,547.4 L207.2,545.9 L207.9,544.0 M239.1,610.7 L240.5,609.4 L242.5,609.3 L243.0,611.3 L245.0,611.7 L245.3,613.7 M228.6,554.1 L227.3,552.6 L225.7,553.8 L224.5,555.4 M199.7,595.7 L199.0,593.9 L197.4,592.6 L196.5,590.9 M201.6,587.2 L199.9,586.2 L198.1,585.3 M198.9,552.0 L199.1,554.0 L198.2,555.7 L196.2,556.2 L195.7,554.3 M257.1,554.9 L257.3,552.9 L256.3,551.1 L254.5,550.4 L252.7,549.5 L250.9,548.7 M231.8,615.7 L233.4,614.5 L234.9,613.1 M231.2,597.2 L230.1,598.9 L228.3,599.6 M206.6,585.4 L204.6,585.1 L202.6,585.2 L200.6,585.3 M250.7,563.4 L249.3,564.7 L248.3,566.5 M234.5,541.7 L232.6,541.2 L231.2,542.6 L231.7,544.6 L231.6,546.6 L230.0,547.8 M218.8,543.8 L220.0,545.4 L221.1,547.0 M251.2,534.5 L253.2,534.2 L254.7,532.9 L256.5,533.7 L258.3,534.6 L257.4,536.4 M201.1,602.6 L202.9,601.7 L204.6,602.7 L206.2,601.5 L206.2,599.5 M204.9,554.8 L206.6,553.9 L207.6,552.1 L205.9,551.2 L203.9,550.8 L202.1,549.8 M250.5,541.4 L252.1,540.3 L254.1,540.1 M234.2,545.7 L235.8,544.6 L236.3,542.7 L237.8,541.3 L237.2,539.3 L238.4,537.8" fill="none" stroke="#e83030" stroke-width="2.1" stroke-linecap="round" stroke-dasharray="0.1 1.9"/>
<path d=" M197.0,570.4 L199.0,570.0 L200.4,571.4 L199.1,572.9 M253.6,602.8 L252.7,604.5 L250.9,603.7 L251.7,601.8 M229.8,605.9 L231.6,606.7 L233.6,606.8 L234.4,608.6 L232.9,609.9 M242.6,550.6 L241.7,548.7 L241.6,546.8 M255.4,540.0 L253.5,539.3 L251.5,539.1 L250.5,537.4 L248.5,537.7 L246.8,538.6 M222.7,576.1 L221.7,574.3 L219.9,575.1 M236.0,586.3 L237.3,584.8 L239.2,584.1 L241.2,583.9 L243.2,583.8 M223.1,543.4 L221.3,542.5 L219.5,541.7 M233.3,538.4 L232.0,536.8 L230.2,536.0 L228.6,537.3 M207.5,567.6 L209.0,566.3 L208.1,564.5 L208.3,562.5 L208.7,560.6 M249.7,571.2 L251.0,569.7 L252.9,569.0 L252.7,567.0 L251.3,565.6 M198.5,583.2 L198.1,585.2 L199.0,587.0 L200.8,586.1 L202.7,585.3 L204.6,584.8 M238.2,608.0 L240.0,608.8 L241.3,610.3 L242.5,612.0 L242.4,614.0 L240.7,615.0 M232.1,584.1 L230.9,585.7 L231.1,587.7 L232.9,588.6 L233.5,590.5 L235.1,591.7 M244.0,585.9 L244.6,584.0 L246.5,583.5 L247.8,585.1 M238.2,533.8 L238.5,535.8 L237.2,537.4 L235.2,537.4 L234.5,539.2 L234.1,541.2 M193.7,540.8 L191.7,540.6 L189.7,541.0 L188.4,539.5 M236.9,537.5 L236.0,535.7 L235.8,533.8 L233.9,533.0 L233.2,531.2 M239.6,561.8 L240.2,563.7 L240.5,565.7 L242.5,565.8 M218.2,568.4 L219.9,567.4 L221.4,566.1 L223.1,567.2 L225.1,567.1 M244.4,580.9 L246.0,579.8 L247.8,579.0 L248.9,580.6 M219.1,610.4 L220.8,609.4 L220.7,607.4 L222.5,606.5 L222.4,604.5 L223.4,602.8 M200.4,579.9 L198.4,579.9 L196.4,579.7 L194.5,579.5 L193.7,577.7 L194.2,575.7 M225.5,595.7 L225.7,597.7 L225.4,599.7 M221.8,597.7 L223.7,598.2 L225.6,598.9 L227.5,599.5 M239.1,608.9 L240.3,610.5 L242.2,611.0 M210.7,567.5 L212.6,568.0 L214.6,568.2 L216.5,567.6 L217.7,569.2 M195.8,574.0 L197.6,573.1 L198.4,571.3 L197.2,569.7 L195.5,568.6 M213.4,611.6 L212.4,613.3 L212.1,615.3 L212.7,617.2 M250.3,610.9 L249.9,608.9 L251.6,607.9 L252.5,606.1 L254.3,605.2 M217.3,597.2 L218.1,599.1 L217.7,601.0 L219.2,602.4 L218.6,604.3 M190.3,594.8 L192.2,594.4 L194.2,594.2 L195.5,595.8 L197.1,596.9 M210.5,534.9 L210.3,532.9 L209.5,531.1 L207.6,531.7 M227.4,603.9 L226.1,602.4 L224.9,600.7 L224.8,598.7 L226.3,597.5 L228.3,597.8 M217.8,557.8 L217.2,555.9 L215.3,555.4 L214.4,557.2 M227.4,570.1 L227.2,572.1 L228.9,573.1 M194.8,569.0 L196.8,569.4 L197.3,571.3 M237.5,547.2 L238.8,545.7 L240.0,544.0 L238.9,542.4 M223.5,546.2 L224.7,547.9 L226.5,548.7 M238.4,559.9 L240.3,560.4 L241.6,558.8 M199.4,588.7 L200.3,586.9 L202.2,587.7 L204.1,588.3 L204.1,590.3 M198.4,604.7 L196.9,603.4 L195.9,601.7 L194.4,600.3 M227.7,542.9 L226.0,543.9 L224.0,543.7 L223.6,545.7 M217.2,548.7 L217.9,550.6 L216.8,552.3 L215.1,553.3 M240.0,589.1 L241.0,587.3 L242.1,585.6 M204.6,552.1 L205.1,550.2 L207.0,549.5 L207.8,547.7 L207.1,545.8 M260.2,595.3 L259.1,593.6 L257.4,592.5 L255.7,593.5 L254.2,592.1 M228.5,572.9 L226.7,572.0 L225.0,571.1 L223.4,569.8 M206.3,548.2 L205.3,549.9 L203.5,549.2 L202.7,551.1 M212.5,591.1 L214.3,592.0 L215.9,590.7 L216.0,588.7 L216.1,586.7 L217.7,585.5 M256.8,580.5 L257.8,578.8 L256.2,577.6 M196.0,557.8 L194.4,558.9 L192.6,559.8 L191.4,558.2 L189.6,559.0 L189.0,560.9 M261.0,585.2 L261.4,583.3 L260.5,581.5 L258.6,582.1 L257.7,583.9 M195.2,597.8 L195.0,595.8 L194.2,594.0 M223.9,554.9 L223.5,552.9 L224.1,551.0 L225.6,549.8 L226.9,548.2 M234.8,539.3 L235.4,541.2 L234.4,542.9 L232.4,542.5 L230.6,541.7 L231.1,539.8 M223.2,597.7 L225.0,598.5 L227.0,598.3 L227.1,596.3 L225.1,595.9 M220.0,537.6 L222.0,537.3 L221.7,535.3 M221.2,562.0 L220.6,563.9 L222.4,564.6 L222.4,566.6 L221.6,568.5 M212.8,561.9 L212.5,563.9 L210.5,563.5 L209.4,565.2 L207.4,565.4 L205.8,566.6 M217.9,601.8 L217.1,600.0 L215.2,600.7 L214.0,599.1 M223.2,584.5 L225.1,584.0 L226.0,582.2 L226.0,580.2 L224.5,578.9 M210.7,611.2 L210.3,609.2 L209.9,607.2 L209.1,605.4 L207.6,604.1 L206.2,602.7 M198.0,564.2 L199.1,565.9 L199.9,567.7 L201.9,567.2 L203.7,567.9 L204.8,566.2 M260.7,557.8 L260.6,555.8 L258.6,555.3 L258.2,557.2 M196.0,551.4 L194.4,552.7 L193.4,554.4 L191.6,553.7 L190.2,552.2 M197.7,594.8 L196.2,596.0 L196.2,598.0" fill="none" stroke="#a01818" stroke-width="1.0" stroke-linecap="round" stroke-linejoin="round"/>
<path d=" M197.0,570.4 L199.0,570.0 L200.4,571.4 L199.1,572.9 M253.6,602.8 L252.7,604.5 L250.9,603.7 L251.7,601.8 M229.8,605.9 L231.6,606.7 L233.6,606.8 L234.4,608.6 L232.9,609.9 M242.6,550.6 L241.7,548.7 L241.6,546.8 M255.4,540.0 L253.5,539.3 L251.5,539.1 L250.5,537.4 L248.5,537.7 L246.8,538.6 M222.7,576.1 L221.7,574.3 L219.9,575.1 M236.0,586.3 L237.3,584.8 L239.2,584.1 L241.2,583.9 L243.2,583.8 M223.1,543.4 L221.3,542.5 L219.5,541.7 M233.3,538.4 L232.0,536.8 L230.2,536.0 L228.6,537.3 M207.5,567.6 L209.0,566.3 L208.1,564.5 L208.3,562.5 L208.7,560.6 M249.7,571.2 L251.0,569.7 L252.9,569.0 L252.7,567.0 L251.3,565.6 M198.5,583.2 L198.1,585.2 L199.0,587.0 L200.8,586.1 L202.7,585.3 L204.6,584.8 M238.2,608.0 L240.0,608.8 L241.3,610.3 L242.5,612.0 L242.4,614.0 L240.7,615.0 M232.1,584.1 L230.9,585.7 L231.1,587.7 L232.9,588.6 L233.5,590.5 L235.1,591.7 M244.0,585.9 L244.6,584.0 L246.5,583.5 L247.8,585.1 M238.2,533.8 L238.5,535.8 L237.2,537.4 L235.2,537.4 L234.5,539.2 L234.1,541.2 M193.7,540.8 L191.7,540.6 L189.7,541.0 L188.4,539.5 M236.9,537.5 L236.0,535.7 L235.8,533.8 L233.9,533.0 L233.2,531.2 M239.6,561.8 L240.2,563.7 L240.5,565.7 L242.5,565.8 M218.2,568.4 L219.9,567.4 L221.4,566.1 L223.1,567.2 L225.1,567.1 M244.4,580.9 L246.0,579.8 L247.8,579.0 L248.9,580.6 M219.1,610.4 L220.8,609.4 L220.7,607.4 L222.5,606.5 L222.4,604.5 L223.4,602.8 M200.4,579.9 L198.4,579.9 L196.4,579.7 L194.5,579.5 L193.7,577.7 L194.2,575.7 M225.5,595.7 L225.7,597.7 L225.4,599.7 M221.8,597.7 L223.7,598.2 L225.6,598.9 L227.5,599.5 M239.1,608.9 L240.3,610.5 L242.2,611.0 M210.7,567.5 L212.6,568.0 L214.6,568.2 L216.5,567.6 L217.7,569.2 M195.8,574.0 L197.6,573.1 L198.4,571.3 L197.2,569.7 L195.5,568.6 M213.4,611.6 L212.4,613.3 L212.1,615.3 L212.7,617.2 M250.3,610.9 L249.9,608.9 L251.6,607.9 L252.5,606.1 L254.3,605.2 M217.3,597.2 L218.1,599.1 L217.7,601.0 L219.2,602.4 L218.6,604.3 M190.3,594.8 L192.2,594.4 L194.2,594.2 L195.5,595.8 L197.1,596.9 M210.5,534.9 L210.3,532.9 L209.5,531.1 L207.6,531.7 M227.4,603.9 L226.1,602.4 L224.9,600.7 L224.8,598.7 L226.3,597.5 L228.3,597.8 M217.8,557.8 L217.2,555.9 L215.3,555.4 L214.4,557.2 M227.4,570.1 L227.2,572.1 L228.9,573.1 M194.8,569.0 L196.8,569.4 L197.3,571.3 M237.5,547.2 L238.8,545.7 L240.0,544.0 L238.9,542.4 M223.5,546.2 L224.7,547.9 L226.5,548.7 M238.4,559.9 L240.3,560.4 L241.6,558.8 M199.4,588.7 L200.3,586.9 L202.2,587.7 L204.1,588.3 L204.1,590.3 M198.4,604.7 L196.9,603.4 L195.9,601.7 L194.4,600.3 M227.7,542.9 L226.0,543.9 L224.0,543.7 L223.6,545.7 M217.2,548.7 L217.9,550.6 L216.8,552.3 L215.1,553.3 M240.0,589.1 L241.0,587.3 L242.1,585.6 M204.6,552.1 L205.1,550.2 L207.0,549.5 L207.8,547.7 L207.1,545.8 M260.2,595.3 L259.1,593.6 L257.4,592.5 L255.7,593.5 L254.2,592.1 M228.5,572.9 L226.7,572.0 L225.0,571.1 L223.4,569.8 M206.3,548.2 L205.3,549.9 L203.5,549.2 L202.7,551.1 M212.5,591.1 L214.3,592.0 L215.9,590.7 L216.0,588.7 L216.1,586.7 L217.7,585.5 M256.8,580.5 L257.8,578.8 L256.2,577.6 M196.0,557.8 L194.4,558.9 L192.6,559.8 L191.4,558.2 L189.6,559.0 L189.0,560.9 M261.0,585.2 L261.4,583.3 L260.5,581.5 L258.6,582.1 L257.7,583.9 M195.2,597.8 L195.0,595.8 L194.2,594.0 M223.9,554.9 L223.5,552.9 L224.1,551.0 L225.6,549.8 L226.9,548.2 M234.8,539.3 L235.4,541.2 L234.4,542.9 L232.4,542.5 L230.6,541.7 L231.1,539.8 M223.2,597.7 L225.0,598.5 L227.0,598.3 L227.1,596.3 L225.1,595.9 M220.0,537.6 L222.0,537.3 L221.7,535.3 M221.2,562.0 L220.6,563.9 L222.4,564.6 L222.4,566.6 L221.6,568.5 M212.8,561.9 L212.5,563.9 L210.5,563.5 L209.4,565.2 L207.4,565.4 L205.8,566.6 M217.9,601.8 L217.1,600.0 L215.2,600.7 L214.0,599.1 M223.2,584.5 L225.1,584.0 L226.0,582.2 L226.0,580.2 L224.5,578.9 M210.7,611.2 L210.3,609.2 L209.9,607.2 L209.1,605.4 L207.6,604.1 L206.2,602.7 M198.0,564.2 L199.1,565.9 L199.9,567.7 L201.9,567.2 L203.7,567.9 L204.8,566.2 M260.7,557.8 L260.6,555.8 L258.6,555.3 L258.2,557.2 M196.0,551.4 L194.4,552.7 L193.4,554.4 L191.6,553.7 L190.2,552.2 M197.7,594.8 L196.2,596.0 L196.2,598.0" fill="none" stroke="#c81818" stroke-width="2.1" stroke-linecap="round" stroke-dasharray="0.1 1.9"/>
<path d=" M236.1,562.3 L237.9,563.2 L238.7,565.0 L237.9,566.8 L237.0,568.6 L238.6,569.7 M228.1,602.1 L229.1,600.3 L227.7,599.0 M202.6,607.7 L201.3,609.2 L199.7,610.4 L198.2,611.7 L196.3,612.4 L196.8,614.3 M242.1,593.6 L242.9,595.5 L242.9,597.5 L242.7,599.5 L240.8,600.1 L238.8,600.4 M239.4,613.4 L240.9,614.8 L241.3,616.7 L243.2,617.4 L244.3,615.7 M202.0,566.0 L200.2,566.9 L200.7,568.9 L199.3,570.3 M240.8,599.3 L242.1,600.9 L244.1,601.2 M208.5,565.1 L207.0,563.8 L205.7,562.3 L203.8,561.9 L202.5,560.4 L200.5,559.9 M214.7,540.7 L212.7,540.3 L211.6,538.6 L212.4,536.8 L211.0,535.3 L209.1,535.0 M235.4,562.7 L235.9,564.6 L237.9,564.9 L238.4,566.8 L237.1,568.3 M242.7,592.9 L243.0,594.9 L244.3,596.4 L243.3,598.1 L243.2,600.1 M247.6,535.4 L245.6,535.1 L243.9,534.0 L242.2,535.0 L240.3,534.6 M219.2,567.1 L220.2,565.4 L220.1,563.4 L219.3,561.6 L218.8,559.7 L217.0,558.6 M229.0,604.6 L227.0,604.9 L225.5,606.2 L223.7,607.2 L222.6,605.6 L221.3,604.1 M250.2,535.3 L251.9,534.3 L253.9,534.4 M253.4,594.6 L253.2,596.6 L255.1,596.9 M232.4,536.0 L233.9,537.4 L233.7,539.4 M256.5,579.2 L254.5,578.7 L253.0,580.1 L251.5,578.8 M259.3,589.6 L259.1,587.6 L259.7,585.7 L261.5,584.9 L261.7,582.9 L261.3,581.0 M243.2,583.8 L244.1,585.6 L243.0,587.2 M249.7,565.0 L247.7,565.1 L245.8,565.6 M207.3,595.4 L207.6,597.4 L206.8,599.2 L204.8,599.1 L202.9,598.5 M226.8,617.2 L225.1,616.2 L223.2,615.6 L221.9,614.1 M228.6,602.1 L230.2,603.4 L230.7,605.3 L229.3,606.8 L227.3,606.9 M209.4,538.7 L208.1,537.2 L206.3,536.3 M244.0,575.8 L242.0,575.4 L240.1,575.9 L239.6,577.8 M251.2,577.9 L253.2,577.9 L254.7,576.6 L255.5,574.8 L254.5,573.1 M223.3,543.2 L222.0,544.7 L220.2,543.9 M203.3,534.6 L202.4,536.4 L204.0,537.6 L205.8,538.6 L207.6,539.3 L207.1,541.2 M240.4,592.2 L240.3,590.2 L241.3,588.5 L243.3,588.4 M202.4,580.7 L204.3,581.2 L204.7,583.2 L203.4,584.7 M253.9,588.8 L255.2,587.2 L256.8,588.4 L258.7,589.0 L259.9,590.5 L260.9,592.3 M213.7,580.3 L215.3,581.5 L214.4,583.3 L212.4,583.1 L212.6,581.1 M218.2,612.3 L219.5,610.8 L220.3,609.0 L220.3,607.0 M232.2,582.1 L230.2,582.4 L228.7,581.1 L229.5,579.2 M210.8,597.0 L208.8,596.6 L208.6,594.6 L206.6,594.2 M246.2,579.3 L248.2,578.7 L248.7,576.8 L248.1,574.9 M214.2,546.0 L215.7,544.6 L217.7,544.9 L219.0,543.4 L217.8,541.8 M231.8,589.6 L231.8,587.6 L230.3,586.2 M223.7,589.0 L221.7,589.3 L219.9,590.3 M220.1,542.2 L221.1,543.9 L222.5,545.3 M224.7,613.5 L224.2,611.6 L222.6,610.4 M227.3,596.6 L226.2,598.3 L224.7,599.6 M190.9,599.5 L192.0,597.8 L193.7,596.8 L192.7,595.0 M251.5,539.1 L250.6,537.4 L252.2,536.1 M203.0,613.1 L201.5,614.4 L200.2,615.9 L198.9,617.5 L199.3,619.4 L198.1,621.0 M238.3,554.5 L239.5,556.1 L241.4,556.6 M213.5,549.4 L215.5,549.5 L215.6,547.5 M224.5,583.2 L225.5,581.5 L224.0,580.1 L222.7,578.6 L224.0,577.1 M212.3,550.0 L211.7,551.9 L213.6,552.5 L215.5,552.0 L215.4,550.0 M260.5,567.6 L260.3,569.6 L258.3,569.6 L257.9,567.7 M258.1,575.0 L258.4,577.0 L257.0,578.4 M234.5,562.3 L232.5,562.9 L232.3,564.9 L231.5,566.7 L230.1,568.2 M225.1,607.4 L227.0,608.0 L228.9,608.6 L230.4,610.0 L229.1,611.5 M209.7,590.5 L208.0,591.6 L206.1,590.9 L204.6,592.1 L202.7,591.5 M236.0,573.9 L234.1,573.3 L232.2,572.7 M214.0,577.2 L212.0,577.3 L211.5,575.3 L212.8,573.8 L214.6,574.6 L215.8,573.0 M222.5,585.5 L224.5,585.9 L225.6,587.6 L227.1,588.8 L228.0,590.6 L227.6,592.6 M193.4,596.8 L192.1,595.3 L190.9,593.7 L191.5,591.8 L193.5,592.0 L193.9,593.9 M242.8,617.1 L240.8,617.4 L240.1,615.5 L241.3,613.8 L242.3,612.2 L243.3,610.4 M238.1,555.0 L237.8,553.0 L236.5,551.4 L237.6,549.7 L236.9,547.8 M231.7,536.5 L230.0,537.6 L228.3,536.6 L227.0,538.0 L228.1,539.8 L229.8,538.8 M222.8,577.4 L222.0,575.6 L220.2,574.7 L218.2,574.4 M244.2,550.3 L245.0,552.2 L243.4,553.4 L241.4,553.9 L241.9,555.8 M239.5,609.2 L240.4,607.4 L242.0,606.1 L243.2,604.6 L245.0,603.7 M233.6,546.7 L232.3,545.3 L230.8,543.9 L229.3,545.1 M200.4,570.0 L201.7,568.4 L203.7,568.6 L204.6,570.4" fill="none" stroke="#a01818" stroke-width="1.0" stroke-linecap="round" stroke-linejoin="round"/>
<path d=" M236.1,562.3 L237.9,563.2 L238.7,565.0 L237.9,566.8 L237.0,568.6 L238.6,569.7 M228.1,602.1 L229.1,600.3 L227.7,599.0 M202.6,607.7 L201.3,609.2 L199.7,610.4 L198.2,611.7 L196.3,612.4 L196.8,614.3 M242.1,593.6 L242.9,595.5 L242.9,597.5 L242.7,599.5 L240.8,600.1 L238.8,600.4 M239.4,613.4 L240.9,614.8 L241.3,616.7 L243.2,617.4 L244.3,615.7 M202.0,566.0 L200.2,566.9 L200.7,568.9 L199.3,570.3 M240.8,599.3 L242.1,600.9 L244.1,601.2 M208.5,565.1 L207.0,563.8 L205.7,562.3 L203.8,561.9 L202.5,560.4 L200.5,559.9 M214.7,540.7 L212.7,540.3 L211.6,538.6 L212.4,536.8 L211.0,535.3 L209.1,535.0 M235.4,562.7 L235.9,564.6 L237.9,564.9 L238.4,566.8 L237.1,568.3 M242.7,592.9 L243.0,594.9 L244.3,596.4 L243.3,598.1 L243.2,600.1 M247.6,535.4 L245.6,535.1 L243.9,534.0 L242.2,535.0 L240.3,534.6 M219.2,567.1 L220.2,565.4 L220.1,563.4 L219.3,561.6 L218.8,559.7 L217.0,558.6 M229.0,604.6 L227.0,604.9 L225.5,606.2 L223.7,607.2 L222.6,605.6 L221.3,604.1 M250.2,535.3 L251.9,534.3 L253.9,534.4 M253.4,594.6 L253.2,596.6 L255.1,596.9 M232.4,536.0 L233.9,537.4 L233.7,539.4 M256.5,579.2 L254.5,578.7 L253.0,580.1 L251.5,578.8 M259.3,589.6 L259.1,587.6 L259.7,585.7 L261.5,584.9 L261.7,582.9 L261.3,581.0 M243.2,583.8 L244.1,585.6 L243.0,587.2 M249.7,565.0 L247.7,565.1 L245.8,565.6 M207.3,595.4 L207.6,597.4 L206.8,599.2 L204.8,599.1 L202.9,598.5 M226.8,617.2 L225.1,616.2 L223.2,615.6 L221.9,614.1 M228.6,602.1 L230.2,603.4 L230.7,605.3 L229.3,606.8 L227.3,606.9 M209.4,538.7 L208.1,537.2 L206.3,536.3 M244.0,575.8 L242.0,575.4 L240.1,575.9 L239.6,577.8 M251.2,577.9 L253.2,577.9 L254.7,576.6 L255.5,574.8 L254.5,573.1 M223.3,543.2 L222.0,544.7 L220.2,543.9 M203.3,534.6 L202.4,536.4 L204.0,537.6 L205.8,538.6 L207.6,539.3 L207.1,541.2 M240.4,592.2 L240.3,590.2 L241.3,588.5 L243.3,588.4 M202.4,580.7 L204.3,581.2 L204.7,583.2 L203.4,584.7 M253.9,588.8 L255.2,587.2 L256.8,588.4 L258.7,589.0 L259.9,590.5 L260.9,592.3 M213.7,580.3 L215.3,581.5 L214.4,583.3 L212.4,583.1 L212.6,581.1 M218.2,612.3 L219.5,610.8 L220.3,609.0 L220.3,607.0 M232.2,582.1 L230.2,582.4 L228.7,581.1 L229.5,579.2 M210.8,597.0 L208.8,596.6 L208.6,594.6 L206.6,594.2 M246.2,579.3 L248.2,578.7 L248.7,576.8 L248.1,574.9 M214.2,546.0 L215.7,544.6 L217.7,544.9 L219.0,543.4 L217.8,541.8 M231.8,589.6 L231.8,587.6 L230.3,586.2 M223.7,589.0 L221.7,589.3 L219.9,590.3 M220.1,542.2 L221.1,543.9 L222.5,545.3 M224.7,613.5 L224.2,611.6 L222.6,610.4 M227.3,596.6 L226.2,598.3 L224.7,599.6 M190.9,599.5 L192.0,597.8 L193.7,596.8 L192.7,595.0 M251.5,539.1 L250.6,537.4 L252.2,536.1 M203.0,613.1 L201.5,614.4 L200.2,615.9 L198.9,617.5 L199.3,619.4 L198.1,621.0 M238.3,554.5 L239.5,556.1 L241.4,556.6 M213.5,549.4 L215.5,549.5 L215.6,547.5 M224.5,583.2 L225.5,581.5 L224.0,580.1 L222.7,578.6 L224.0,577.1 M212.3,550.0 L211.7,551.9 L213.6,552.5 L215.5,552.0 L215.4,550.0 M260.5,567.6 L260.3,569.6 L258.3,569.6 L257.9,567.7 M258.1,575.0 L258.4,577.0 L257.0,578.4 M234.5,562.3 L232.5,562.9 L232.3,564.9 L231.5,566.7 L230.1,568.2 M225.1,607.4 L227.0,608.0 L228.9,608.6 L230.4,610.0 L229.1,611.5 M209.7,590.5 L208.0,591.6 L206.1,590.9 L204.6,592.1 L202.7,591.5 M236.0,573.9 L234.1,573.3 L232.2,572.7 M214.0,577.2 L212.0,577.3 L211.5,575.3 L212.8,573.8 L214.6,574.6 L215.8,573.0 M222.5,585.5 L224.5,585.9 L225.6,587.6 L227.1,588.8 L228.0,590.6 L227.6,592.6 M193.4,596.8 L192.1,595.3 L190.9,593.7 L191.5,591.8 L193.5,592.0 L193.9,593.9 M242.8,617.1 L240.8,617.4 L240.1,615.5 L241.3,613.8 L242.3,612.2 L243.3,610.4 M238.1,555.0 L237.8,553.0 L236.5,551.4 L237.6,549.7 L236.9,547.8 M231.7,536.5 L230.0,537.6 L228.3,536.6 L227.0,538.0 L228.1,539.8 L229.8,538.8 M222.8,577.4 L222.0,575.6 L220.2,574.7 L218.2,574.4 M244.2,550.3 L245.0,552.2 L243.4,553.4 L241.4,553.9 L241.9,555.8 M239.5,609.2 L240.4,607.4 L242.0,606.1 L243.2,604.6 L245.0,603.7 M233.6,546.7 L232.3,545.3 L230.8,543.9 L229.3,545.1 M200.4,570.0 L201.7,568.4 L203.7,568.6 L204.6,570.4" fill="none" stroke="#f04040" stroke-width="2.1" stroke-linecap="round" stroke-dasharray="0.1 1.9"/>
<rect x="57.77" y="659.40" width="8.37" height="83.80" fill="#c6c6c6" stroke="#333" stroke-width="1.10"/>
<rect x="66.14" y="575.60" width="8.37" height="167.60" fill="#c6c6c6" stroke="#333" stroke-width="1.10"/>
<rect x="91.26" y="673.37" width="8.37" height="69.83" fill="#c6c6c6" stroke="#333" stroke-width="1.10"/>
<rect x="99.63" y="561.63" width="8.37" height="181.57" fill="#c6c6c6" stroke="#333" stroke-width="1.10"/>
<rect x="133.12" y="617.50" width="8.37" height="125.70" fill="#c6c6c6" stroke="#333" stroke-width="1.10"/>
<rect x="141.49" y="617.50" width="8.37" height="125.70" fill="#c6c6c6" stroke="#333" stroke-width="1.10"/>
<rect x="166.61" y="631.47" width="8.37" height="111.73" fill="#c6c6c6" stroke="#333" stroke-width="1.10"/>
<rect x="174.98" y="603.53" width="8.37" height="139.67" fill="#c6c6c6" stroke="#333" stroke-width="1.10"/>
<rect x="208.47" y="617.50" width="8.37" height="125.70" fill="#c6c6c6" stroke="#333" stroke-width="1.10"/>
<rect x="216.84" y="617.50" width="8.37" height="125.70" fill="#c6c6c6" stroke="#333" stroke-width="1.10"/>
<rect x="241.96" y="645.43" width="8.37" height="97.77" fill="#c6c6c6" stroke="#333" stroke-width="1.10"/>
<rect x="250.33" y="589.57" width="8.37" height="153.63" fill="#c6c6c6" stroke="#333" stroke-width="1.10"/>
<path d="M49.40,743.20L49.40,737.20 M49.40,533.70L49.40,539.70 M70.33,743.20L70.33,740.00 M70.33,533.70L70.33,536.90 M91.26,743.20L91.26,737.20 M91.26,533.70L91.26,539.70 M112.19,743.20L112.19,740.00 M112.19,533.70L112.19,536.90 M133.12,743.20L133.12,737.20 M133.12,533.70L133.12,539.70 M154.05,743.20L154.05,740.00 M154.05,533.70L154.05,536.90 M174.98,743.20L174.98,737.20 M174.98,533.70L174.98,539.70 M195.91,743.20L195.91,740.00 M195.91,533.70L195.91,536.90 M216.84,743.20L216.84,737.20 M216.84,533.70L216.84,539.70 M237.77,743.20L237.77,740.00 M237.77,533.70L237.77,536.90 M258.70,743.20L258.70,737.20 M258.70,533.70L258.70,539.70 M49.40,743.20L55.40,743.20 M258.70,743.20L252.70,743.20 M49.40,708.28L52.60,708.28 M258.70,708.28L255.50,708.28 M49.40,673.37L55.40,673.37 M258.70,673.37L252.70,673.37 M49.40,638.45L52.60,638.45 M258.70,638.45L255.50,638.45 M49.40,603.53L55.40,603.53 M258.70,603.53L252.70,603.53 M49.40,568.62L52.60,568.62 M258.70,568.62L255.50,568.62 M49.40,533.70L55.40,533.70 M258.70,533.70L252.70,533.70" stroke="#3a3a3a" stroke-width="1.1" fill="none"/>
<text x="49.40" y="757.80" text-anchor="middle" font-size="17.0">0</text>
<text x="91.26" y="757.80" text-anchor="middle" font-size="17.0">5</text>
<text x="133.12" y="757.80" text-anchor="middle" font-size="17.0">10</text>
<text x="174.98" y="757.80" text-anchor="middle" font-size="17.0">15</text>
<text x="216.84" y="757.80" text-anchor="middle" font-size="17.0">20</text>
<text x="258.70" y="757.80" text-anchor="middle" font-size="17.0">25</text>
<text x="46.40" y="743.20" text-anchor="middle" font-size="16.5" transform="rotate(-90 46.40 743.20)">0</text>
<text x="46.40" y="673.37" text-anchor="middle" font-size="16.5" transform="rotate(-90 46.40 673.37)">5</text>
<text x="46.40" y="603.53" text-anchor="middle" font-size="16.5" transform="rotate(-90 46.40 603.53)">10</text>
<text x="46.40" y="533.70" text-anchor="middle" font-size="16.5" transform="rotate(-90 46.40 533.70)">15</text>
<text x="154.05" y="775.20" text-anchor="middle" font-size="21.5">X-coordinate (&#963;)</text>
<text x="28.50" y="637.70" text-anchor="middle" font-size="21.0" transform="rotate(-90 28.50 637.70)">count (#)</text>
<text x="0" y="520.7" font-size="23.5" textLength="34.5" lengthAdjust="spacingAndGlyphs">(E)</text>
<circle cx="169.1" cy="546.8" r="10.2" fill="#00ff00"/>
<rect x="49.40" y="533.70" width="209.30" height="209.50" fill="none" stroke="#3a3a3a" stroke-width="1.3"/>
<rect x="306.30" y="685.29" width="8.37" height="55.81" fill="#f8bfc2" stroke="#e21a22" stroke-width="1.50"/>
<rect x="314.67" y="671.33" width="8.37" height="69.77" fill="#f8bfc2" stroke="#e21a22" stroke-width="1.50"/>
<rect x="323.04" y="685.29" width="8.37" height="55.81" fill="#f8bfc2" stroke="#e21a22" stroke-width="1.50"/>
<rect x="331.40" y="643.43" width="8.37" height="97.67" fill="#f8bfc2" stroke="#e21a22" stroke-width="1.50"/>
<rect x="339.77" y="699.24" width="8.37" height="41.86" fill="#f8bfc2" stroke="#e21a22" stroke-width="1.50"/>
<rect x="348.14" y="671.33" width="8.37" height="69.77" fill="#f8bfc2" stroke="#e21a22" stroke-width="1.50"/>
<rect x="356.51" y="657.38" width="8.37" height="83.72" fill="#f8bfc2" stroke="#e21a22" stroke-width="1.50"/>
<rect x="364.88" y="699.24" width="8.37" height="41.86" fill="#f8bfc2" stroke="#e21a22" stroke-width="1.50"/>
<rect x="373.24" y="643.43" width="8.37" height="97.67" fill="#f8bfc2" stroke="#e21a22" stroke-width="1.50"/>
<rect x="381.61" y="671.33" width="8.37" height="69.77" fill="#f8bfc2" stroke="#e21a22" stroke-width="1.50"/>
<rect x="389.98" y="699.24" width="8.37" height="41.86" fill="#f8bfc2" stroke="#e21a22" stroke-width="1.50"/>
<rect x="398.35" y="685.29" width="8.37" height="55.81" fill="#f8bfc2" stroke="#e21a22" stroke-width="1.50"/>
<rect x="406.72" y="671.33" width="8.37" height="69.77" fill="#f8bfc2" stroke="#e21a22" stroke-width="1.50"/>
<rect x="415.08" y="657.38" width="8.37" height="83.72" fill="#f8bfc2" stroke="#e21a22" stroke-width="1.50"/>
<rect x="423.45" y="685.29" width="8.37" height="55.81" fill="#f8bfc2" stroke="#e21a22" stroke-width="1.50"/>
<rect x="431.82" y="657.38" width="8.37" height="83.72" fill="#f8bfc2" stroke="#e21a22" stroke-width="1.50"/>
<rect x="440.19" y="685.29" width="8.37" height="55.81" fill="#f8bfc2" stroke="#e21a22" stroke-width="1.50"/>
<rect x="448.56" y="671.33" width="8.37" height="69.77" fill="#f8bfc2" stroke="#e21a22" stroke-width="1.50"/>
<rect x="456.92" y="685.29" width="8.37" height="55.81" fill="#f8bfc2" stroke="#e21a22" stroke-width="1.50"/>
<rect x="465.29" y="657.38" width="8.37" height="83.72" fill="#f8bfc2" stroke="#e21a22" stroke-width="1.50"/>
<rect x="473.66" y="713.19" width="8.37" height="27.91" fill="#f8bfc2" stroke="#e21a22" stroke-width="1.50"/>
<rect x="482.03" y="671.33" width="8.37" height="69.77" fill="#f8bfc2" stroke="#e21a22" stroke-width="1.50"/>
<rect x="490.40" y="699.24" width="8.37" height="41.86" fill="#f8bfc2" stroke="#e21a22" stroke-width="1.50"/>
<rect x="498.76" y="727.15" width="8.37" height="13.95" fill="#f8bfc2" stroke="#e21a22" stroke-width="1.50"/>
<path d="M511.2,574.0 L511.1,592.2 L510.7,597.9 L510.2,602.0 L509.4,605.1 L508.4,607.7 L507.1,609.8 L505.5,611.5 L503.6,612.8 L501.2,613.8 L498.1,614.5 L493.7,614.9 L479.8,615.1 L465.8,614.9 L461.4,614.5 L458.3,613.8 L455.9,612.8 L454.0,611.5 L452.4,609.8 L451.1,607.7 L450.1,605.1 L449.3,602.0 L448.8,597.9 L448.4,592.2 L448.3,574.0 L448.4,555.8 L448.8,550.1 L449.3,546.0 L450.1,542.9 L451.1,540.3 L452.4,538.2 L454.0,536.5 L455.9,535.2 L458.3,534.2 L461.4,533.5 L465.8,533.1 L479.7,532.9 L493.7,533.1 L498.1,533.5 L501.2,534.2 L503.6,535.2 L505.5,536.5 L507.1,538.2 L508.4,540.3 L509.4,542.9 L510.2,546.0 L510.7,550.1 L511.1,555.8Z" fill="#3f7a2c"/>
<rect x="450.6" y="534.9" width="10.4" height="10.4" rx="1" fill="url(#cg)" stroke="#2a7a26" stroke-width="0.8" transform="rotate(-34 455.8 540.2)"/>
<rect x="459.8" y="533.7" width="9.0" height="9.0" rx="1" fill="url(#cg)" stroke="#2a7a26" stroke-width="0.8" transform="rotate(-16 464.3 538.2)"/>
<rect x="471.0" y="535.0" width="8.3" height="8.3" rx="1" fill="url(#cg)" stroke="#2a7a26" stroke-width="0.8" transform="rotate(-29 475.2 539.1)"/>
<rect x="481.1" y="534.0" width="9.9" height="9.9" rx="1" fill="#5cc850" stroke="#2a7a26" stroke-width="0.8" transform="rotate(-10 486.1 539.0)"/>
<rect x="492.6" y="534.2" width="8.4" height="8.4" rx="1" fill="url(#cg)" stroke="#2a7a26" stroke-width="0.8" transform="rotate(8 496.8 538.4)"/>
<rect x="453.3" y="544.5" width="9.1" height="9.1" rx="1" fill="#45b83d" stroke="#2a7a26" stroke-width="0.8" transform="rotate(5 457.8 549.0)"/>
<rect x="462.9" y="544.0" width="10.2" height="10.2" rx="1" fill="#5cc850" stroke="#2a7a26" stroke-width="0.8" transform="rotate(12 468.0 549.1)"/>
<rect x="475.0" y="544.2" width="8.7" height="8.7" rx="1" fill="url(#cg)" stroke="#2a7a26" stroke-width="0.8" transform="rotate(6 479.4 548.5)"/>
<rect x="484.7" y="544.2" width="8.5" height="8.5" rx="1" fill="#45b83d" stroke="#2a7a26" stroke-width="0.8" transform="rotate(22 489.0 548.5)"/>
<rect x="495.2" y="543.6" width="9.1" height="9.1" rx="1" fill="#45b83d" stroke="#2a7a26" stroke-width="0.8" transform="rotate(28 499.7 548.1)"/>
<rect x="502.2" y="543.2" width="9.3" height="9.3" rx="1" fill="url(#cg)" stroke="#2a7a26" stroke-width="0.8" transform="rotate(15 506.8 547.9)"/>
<rect x="450.1" y="554.2" width="10.2" height="10.2" rx="1" fill="url(#cg)" stroke="#2a7a26" stroke-width="0.8" transform="rotate(31 455.2 559.4)"/>
<rect x="462.4" y="553.1" width="8.7" height="8.7" rx="1" fill="#5cc850" stroke="#2a7a26" stroke-width="0.8" transform="rotate(-7 466.8 557.4)"/>
<rect x="471.2" y="553.0" width="8.7" height="8.7" rx="1" fill="url(#cg)" stroke="#2a7a26" stroke-width="0.8" transform="rotate(21 475.6 557.3)"/>
<rect x="482.6" y="555.3" width="10.5" height="10.5" rx="1" fill="url(#cg)" stroke="#2a7a26" stroke-width="0.8" transform="rotate(-11 487.8 560.6)"/>
<rect x="492.8" y="553.4" width="10.5" height="10.5" rx="1" fill="url(#cg)" stroke="#2a7a26" stroke-width="0.8" transform="rotate(-16 498.1 558.7)"/>
<rect x="501.9" y="554.0" width="9.6" height="9.6" rx="1" fill="#45b83d" stroke="#2a7a26" stroke-width="0.8" transform="rotate(-20 506.7 558.8)"/>
<rect x="454.4" y="563.4" width="8.5" height="8.5" rx="1" fill="url(#cg)" stroke="#2a7a26" stroke-width="0.8" transform="rotate(-17 458.6 567.7)"/>
<rect x="465.9" y="564.1" width="9.3" height="9.3" rx="1" fill="#45b83d" stroke="#2a7a26" stroke-width="0.8" transform="rotate(11 470.5 568.7)"/>
<rect x="474.7" y="564.5" width="9.3" height="9.3" rx="1" fill="#5cc850" stroke="#2a7a26" stroke-width="0.8" transform="rotate(-30 479.3 569.1)"/>
<rect x="487.1" y="564.8" width="10.5" height="10.5" rx="1" fill="#45b83d" stroke="#2a7a26" stroke-width="0.8" transform="rotate(-5 492.3 570.1)"/>
<rect x="497.6" y="564.5" width="9.0" height="9.0" rx="1" fill="url(#cg)" stroke="#2a7a26" stroke-width="0.8" transform="rotate(23 502.1 569.0)"/>
<rect x="452.2" y="573.9" width="8.5" height="8.5" rx="1" fill="#5cc850" stroke="#2a7a26" stroke-width="0.8" transform="rotate(-18 456.5 578.2)"/>
<rect x="461.5" y="574.4" width="10.5" height="10.5" rx="1" fill="url(#cg)" stroke="#2a7a26" stroke-width="0.8" transform="rotate(-19 466.7 579.7)"/>
<rect x="473.0" y="574.2" width="9.6" height="9.6" rx="1" fill="#45b83d" stroke="#2a7a26" stroke-width="0.8" transform="rotate(-35 477.8 579.0)"/>
<rect x="484.4" y="573.4" width="9.2" height="9.2" rx="1" fill="#5cc850" stroke="#2a7a26" stroke-width="0.8" transform="rotate(-21 489.0 578.0)"/>
<rect x="493.5" y="574.2" width="9.9" height="9.9" rx="1" fill="#5cc850" stroke="#2a7a26" stroke-width="0.8" transform="rotate(32 498.4 579.1)"/>
<rect x="502.2" y="574.5" width="9.3" height="9.3" rx="1" fill="url(#cg)" stroke="#2a7a26" stroke-width="0.8" transform="rotate(2 506.9 579.1)"/>
<rect x="450.5" y="583.4" width="9.0" height="9.0" rx="1" fill="url(#cg)" stroke="#2a7a26" stroke-width="0.8" transform="rotate(25 454.9 587.8)"/>
<rect x="460.8" y="584.8" width="9.4" height="9.4" rx="1" fill="#5cc850" stroke="#2a7a26" stroke-width="0.8" transform="rotate(-15 465.5 589.5)"/>
<rect x="470.3" y="583.9" width="9.0" height="9.0" rx="1" fill="#45b83d" stroke="#2a7a26" stroke-width="0.8" transform="rotate(-24 474.9 588.4)"/>
<rect x="482.2" y="584.8" width="8.4" height="8.4" rx="1" fill="#45b83d" stroke="#2a7a26" stroke-width="0.8" transform="rotate(3 486.4 589.0)"/>
<rect x="491.6" y="585.3" width="9.9" height="9.9" rx="1" fill="url(#cg)" stroke="#2a7a26" stroke-width="0.8" transform="rotate(0 496.6 590.2)"/>
<rect x="502.4" y="583.4" width="8.6" height="8.6" rx="1" fill="#5cc850" stroke="#2a7a26" stroke-width="0.8" transform="rotate(-34 506.7 587.7)"/>
<rect x="453.8" y="593.5" width="8.4" height="8.4" rx="1" fill="#5cc850" stroke="#2a7a26" stroke-width="0.8" transform="rotate(-32 458.0 597.7)"/>
<rect x="463.2" y="594.1" width="10.2" height="10.2" rx="1" fill="url(#cg)" stroke="#2a7a26" stroke-width="0.8" transform="rotate(9 468.2 599.2)"/>
<rect x="473.5" y="594.4" width="10.1" height="10.1" rx="1" fill="#45b83d" stroke="#2a7a26" stroke-width="0.8" transform="rotate(-14 478.6 599.5)"/>
<rect x="485.9" y="594.8" width="8.5" height="8.5" rx="1" fill="url(#cg)" stroke="#2a7a26" stroke-width="0.8" transform="rotate(-32 490.1 599.0)"/>
<rect x="496.1" y="595.6" width="8.6" height="8.6" rx="1" fill="url(#cg)" stroke="#2a7a26" stroke-width="0.8" transform="rotate(8 500.4 599.9)"/>
<rect x="502.9" y="594.3" width="8.6" height="8.6" rx="1" fill="#45b83d" stroke="#2a7a26" stroke-width="0.8" transform="rotate(5 507.2 598.7)"/>
<rect x="451.5" y="604.7" width="10.1" height="10.1" rx="1" fill="url(#cg)" stroke="#2a7a26" stroke-width="0.8" transform="rotate(-12 456.5 609.8)"/>
<rect x="460.3" y="605.3" width="8.6" height="8.6" rx="1" fill="url(#cg)" stroke="#2a7a26" stroke-width="0.8" transform="rotate(33 464.6 609.7)"/>
<rect x="472.5" y="603.8" width="10.6" height="10.6" rx="1" fill="#5cc850" stroke="#2a7a26" stroke-width="0.8" transform="rotate(11 477.8 609.1)"/>
<rect x="481.8" y="604.6" width="9.5" height="9.5" rx="1" fill="#45b83d" stroke="#2a7a26" stroke-width="0.8" transform="rotate(-3 486.6 609.4)"/>
<rect x="494.2" y="604.8" width="9.8" height="9.8" rx="1" fill="#45b83d" stroke="#2a7a26" stroke-width="0.8" transform="rotate(-8 499.1 609.7)"/>
<path d=" M471.8,596.2 L470.0,596.9 L468.3,598.1 L469.3,599.8 M462.6,541.2 L464.3,542.2 L465.9,541.0 L464.9,539.2 L463.9,537.5 L461.9,537.8 M480.6,551.4 L481.4,553.3 L483.4,553.6 M505.5,535.9 L507.0,534.5 L508.0,532.8 M458.4,579.8 L456.4,580.1 L454.8,579.0 M464.5,577.0 L466.5,577.5 L467.9,576.1 L468.0,574.1 L469.4,572.7 L471.4,572.6 M453.2,596.8 L452.2,595.1 L450.2,594.8 L448.2,595.0 L446.7,593.7 M498.3,552.4 L499.9,551.2 L501.7,551.9 L502.0,553.9 M457.2,594.8 L457.5,592.8 L459.2,591.6 L459.6,589.7 L458.6,588.0 L459.5,586.2 M449.1,543.7 L447.3,544.6 L445.3,544.3 L443.3,544.3 M505.7,593.9 L507.1,592.4 L509.1,592.4 L511.0,591.9 L512.9,592.4 M498.3,616.8 L500.3,616.7 L501.0,614.8 L501.9,613.0 L503.9,612.9 M476.6,611.9 L476.6,613.9 L474.6,614.1 L474.5,616.0 M472.4,602.1 L471.2,603.7 L470.1,605.4 L468.6,606.7 M486.6,560.4 L484.9,561.4 L483.2,562.4 L481.4,561.5 L479.4,561.2 M508.4,536.9 L506.5,536.2 L504.5,536.3 M449.6,606.0 L447.8,606.9 L445.8,607.2 L444.8,608.9 L444.6,610.9 M482.9,557.4 L483.4,555.5 L484.9,554.1 L486.6,553.2 M501.4,564.8 L500.5,566.6 L498.6,567.2 L497.3,568.7 L497.0,570.6 M450.4,552.3 L451.5,550.6 L452.8,549.1 L454.0,547.5 L455.6,546.4 M463.1,569.4 L463.8,571.2 L465.0,572.8 L467.0,572.6 L469.0,572.6 L470.0,570.8 M469.2,540.5 L470.8,539.2 L470.9,537.2 L472.6,536.2 L474.3,537.3 L476.3,537.5 M506.9,533.0 L508.8,532.3 L510.8,531.9 L512.1,533.4 L514.0,532.7 M487.2,584.8 L489.2,584.9 L491.2,584.8 L491.4,582.8 M508.8,571.3 L509.3,569.4 L509.1,567.4 L509.8,565.5 M483.0,603.7 L484.1,602.0 L482.6,600.6 M500.3,589.9 L498.8,588.6 L496.8,589.2 L496.1,591.1 M499.0,563.1 L498.0,561.4 L496.4,560.3 L494.7,559.2 L493.0,558.1 L491.1,557.6 M507.3,569.5 L506.3,571.3 L506.0,573.3 L505.9,575.3 M479.6,555.4 L480.2,557.3 L480.2,559.3 M458.0,558.6 L458.3,560.6 L460.2,560.9 L462.2,560.8 M451.7,565.7 L451.0,563.8 L451.5,561.9 L450.3,560.2 L450.3,558.2 M498.5,602.7 L498.7,600.7 L499.1,598.8 L499.0,596.8 L499.9,595.0 L498.2,593.8 M505.0,611.6 L503.0,611.2 L501.6,612.7 L499.8,613.6 M486.8,540.5 L488.2,541.9 L489.7,543.1 L491.7,542.6 L493.4,541.5 L494.4,543.2 M488.1,542.9 L486.6,541.6 L484.6,541.8 L482.9,542.9 M447.7,601.8 L446.8,603.6 L444.9,604.4 M499.4,609.3 L498.6,611.1 L496.6,611.4 L496.3,609.4 L495.0,607.9 M487.5,605.9 L489.5,605.9 L489.4,603.9 L487.7,603.0 L487.7,601.0 M467.0,609.1 L469.0,608.6 L470.9,608.1 M484.1,593.9 L484.6,595.8 L486.5,596.6 L488.4,595.9 M491.9,590.2 L490.9,588.4 L489.5,587.0 L487.6,587.2 M455.7,578.8 L453.9,577.9 L454.0,575.9 M475.0,614.4 L473.6,615.8 L471.8,616.6 L472.1,618.6 L474.1,618.3 L475.7,619.4 M491.7,538.4 L490.5,536.7 L488.5,536.7 L488.3,538.7 L486.6,539.8 M483.3,544.3 L481.7,543.2 L480.0,542.2 L478.2,543.1 L476.3,542.4 L474.3,542.2 M485.6,575.7 L485.1,573.8 L483.1,573.4 L481.4,572.4 L481.3,570.4 L479.5,569.8 M498.6,615.5 L500.5,614.9 L501.1,613.0 L503.0,612.6 L504.3,611.1 M472.5,590.2 L470.5,590.6 L469.9,588.7 M468.8,555.2 L466.8,555.1 L464.9,555.5 L464.2,557.4 L462.2,557.4 M475.7,554.4 L476.7,552.7 L475.9,550.8 L473.9,550.7 L474.0,548.7 M453.0,541.2 L454.6,539.9 L454.7,537.9 M458.5,535.3 L456.8,534.2 L454.8,534.3 L453.7,535.9 M465.5,565.5 L463.5,565.4 L461.6,564.9 L460.7,566.7 M461.7,575.6 L461.6,577.6 L463.2,578.8 M473.3,547.8 L471.3,547.5 L471.2,545.5 M491.9,575.5 L493.8,574.8 L495.5,573.8 L497.0,572.4 L498.7,571.3 M466.1,587.6 L467.4,589.1 L469.0,587.9 M504.5,585.1 L504.8,587.1 L503.5,588.5 M472.2,532.8 L470.3,532.1 L468.3,531.8 L466.4,531.4 L464.8,532.6 M482.9,546.7 L484.0,545.0 L484.1,543.1 L485.8,542.0 L487.6,542.9 M492.3,609.1 L493.3,607.4 L495.3,607.4 L496.3,609.1 L497.0,611.0 L498.2,612.6 M453.1,579.6 L452.1,577.9 L450.9,576.3 L448.9,576.4 L447.3,577.6" fill="none" stroke="#a01818" stroke-width="1.0" stroke-linecap="round" stroke-linejoin="round"/>
<path d=" M471.8,596.2 L470.0,596.9 L468.3,598.1 L469.3,599.8 M462.6,541.2 L464.3,542.2 L465.9,541.0 L464.9,539.2 L463.9,537.5 L461.9,537.8 M480.6,551.4 L481.4,553.3 L483.4,553.6 M505.5,535.9 L507.0,534.5 L508.0,532.8 M458.4,579.8 L456.4,580.1 L454.8,579.0 M464.5,577.0 L466.5,577.5 L467.9,576.1 L468.0,574.1 L469.4,572.7 L471.4,572.6 M453.2,596.8 L452.2,595.1 L450.2,594.8 L448.2,595.0 L446.7,593.7 M498.3,552.4 L499.9,551.2 L501.7,551.9 L502.0,553.9 M457.2,594.8 L457.5,592.8 L459.2,591.6 L459.6,589.7 L458.6,588.0 L459.5,586.2 M449.1,543.7 L447.3,544.6 L445.3,544.3 L443.3,544.3 M505.7,593.9 L507.1,592.4 L509.1,592.4 L511.0,591.9 L512.9,592.4 M498.3,616.8 L500.3,616.7 L501.0,614.8 L501.9,613.0 L503.9,612.9 M476.6,611.9 L476.6,613.9 L474.6,614.1 L474.5,616.0 M472.4,602.1 L471.2,603.7 L470.1,605.4 L468.6,606.7 M486.6,560.4 L484.9,561.4 L483.2,562.4 L481.4,561.5 L479.4,561.2 M508.4,536.9 L506.5,536.2 L504.5,536.3 M449.6,606.0 L447.8,606.9 L445.8,607.2 L444.8,608.9 L444.6,610.9 M482.9,557.4 L483.4,555.5 L484.9,554.1 L486.6,553.2 M501.4,564.8 L500.5,566.6 L498.6,567.2 L497.3,568.7 L497.0,570.6 M450.4,552.3 L451.5,550.6 L452.8,549.1 L454.0,547.5 L455.6,546.4 M463.1,569.4 L463.8,571.2 L465.0,572.8 L467.0,572.6 L469.0,572.6 L470.0,570.8 M469.2,540.5 L470.8,539.2 L470.9,537.2 L472.6,536.2 L474.3,537.3 L476.3,537.5 M506.9,533.0 L508.8,532.3 L510.8,531.9 L512.1,533.4 L514.0,532.7 M487.2,584.8 L489.2,584.9 L491.2,584.8 L491.4,582.8 M508.8,571.3 L509.3,569.4 L509.1,567.4 L509.8,565.5 M483.0,603.7 L484.1,602.0 L482.6,600.6 M500.3,589.9 L498.8,588.6 L496.8,589.2 L496.1,591.1 M499.0,563.1 L498.0,561.4 L496.4,560.3 L494.7,559.2 L493.0,558.1 L491.1,557.6 M507.3,569.5 L506.3,571.3 L506.0,573.3 L505.9,575.3 M479.6,555.4 L480.2,557.3 L480.2,559.3 M458.0,558.6 L458.3,560.6 L460.2,560.9 L462.2,560.8 M451.7,565.7 L451.0,563.8 L451.5,561.9 L450.3,560.2 L450.3,558.2 M498.5,602.7 L498.7,600.7 L499.1,598.8 L499.0,596.8 L499.9,595.0 L498.2,593.8 M505.0,611.6 L503.0,611.2 L501.6,612.7 L499.8,613.6 M486.8,540.5 L488.2,541.9 L489.7,543.1 L491.7,542.6 L493.4,541.5 L494.4,543.2 M488.1,542.9 L486.6,541.6 L484.6,541.8 L482.9,542.9 M447.7,601.8 L446.8,603.6 L444.9,604.4 M499.4,609.3 L498.6,611.1 L496.6,611.4 L496.3,609.4 L495.0,607.9 M487.5,605.9 L489.5,605.9 L489.4,603.9 L487.7,603.0 L487.7,601.0 M467.0,609.1 L469.0,608.6 L470.9,608.1 M484.1,593.9 L484.6,595.8 L486.5,596.6 L488.4,595.9 M491.9,590.2 L490.9,588.4 L489.5,587.0 L487.6,587.2 M455.7,578.8 L453.9,577.9 L454.0,575.9 M475.0,614.4 L473.6,615.8 L471.8,616.6 L472.1,618.6 L474.1,618.3 L475.7,619.4 M491.7,538.4 L490.5,536.7 L488.5,536.7 L488.3,538.7 L486.6,539.8 M483.3,544.3 L481.7,543.2 L480.0,542.2 L478.2,543.1 L476.3,542.4 L474.3,542.2 M485.6,575.7 L485.1,573.8 L483.1,573.4 L481.4,572.4 L481.3,570.4 L479.5,569.8 M498.6,615.5 L500.5,614.9 L501.1,613.0 L503.0,612.6 L504.3,611.1 M472.5,590.2 L470.5,590.6 L469.9,588.7 M468.8,555.2 L466.8,555.1 L464.9,555.5 L464.2,557.4 L462.2,557.4 M475.7,554.4 L476.7,552.7 L475.9,550.8 L473.9,550.7 L474.0,548.7 M453.0,541.2 L454.6,539.9 L454.7,537.9 M458.5,535.3 L456.8,534.2 L454.8,534.3 L453.7,535.9 M465.5,565.5 L463.5,565.4 L461.6,564.9 L460.7,566.7 M461.7,575.6 L461.6,577.6 L463.2,578.8 M473.3,547.8 L471.3,547.5 L471.2,545.5 M491.9,575.5 L493.8,574.8 L495.5,573.8 L497.0,572.4 L498.7,571.3 M466.1,587.6 L467.4,589.1 L469.0,587.9 M504.5,585.1 L504.8,587.1 L503.5,588.5 M472.2,532.8 L470.3,532.1 L468.3,531.8 L466.4,531.4 L464.8,532.6 M482.9,546.7 L484.0,545.0 L484.1,543.1 L485.8,542.0 L487.6,542.9 M492.3,609.1 L493.3,607.4 L495.3,607.4 L496.3,609.1 L497.0,611.0 L498.2,612.6 M453.1,579.6 L452.1,577.9 L450.9,576.3 L448.9,576.4 L447.3,577.6" fill="none" stroke="#dd2020" stroke-width="2.1" stroke-linecap="round" stroke-dasharray="0.1 1.9"/>
<path d=" M497.6,571.3 L498.2,569.4 L497.7,567.5 L498.2,565.5 L498.4,563.5 M490.4,555.1 L490.6,553.2 L489.1,551.9 L487.2,551.4 M497.5,596.9 L499.5,596.8 L501.5,596.6 L503.1,597.9 M480.3,604.6 L479.8,602.7 L478.1,601.6 L476.8,600.1 M453.5,580.1 L455.3,579.2 L455.3,577.2 L457.2,576.5 L458.5,575.1 L458.2,573.1 M503.6,612.8 L501.7,612.3 L500.5,610.7 L498.7,611.6 L497.3,613.0 L495.3,612.9 M498.4,613.4 L496.4,613.3 L495.6,615.1 M482.8,587.9 L482.1,586.1 L483.4,584.6 L484.4,582.8 L483.8,581.0 M480.8,565.6 L479.4,564.2 L477.9,565.5 L476.2,566.6 M462.1,572.8 L463.1,571.1 L462.0,569.4 M489.7,561.7 L491.0,563.2 L492.9,562.7 M470.1,595.4 L470.3,597.4 L472.1,598.4 L473.7,599.5 L475.6,599.1 L476.5,597.2 M449.0,562.4 L450.6,563.6 L452.6,563.8 M502.6,583.7 L502.8,581.7 L502.4,579.8 L504.4,579.5 M477.0,574.0 L476.1,575.8 L476.2,577.8 L474.5,578.8 M475.2,594.9 L476.1,596.7 L477.0,598.5 M483.5,568.9 L485.4,568.5 L486.8,569.9 L488.0,571.6 L489.3,573.0 L491.3,572.6 M460.8,577.8 L460.7,579.8 L462.7,580.1 L462.6,582.1 L464.5,582.8 L465.9,581.3 M473.1,547.5 L471.1,547.9 L470.1,546.2 M462.6,551.8 L461.9,549.9 L462.8,548.1 L461.7,546.4 M507.2,613.5 L509.0,614.3 L510.9,615.1 M497.5,604.7 L495.5,604.3 L493.6,605.0 L492.8,606.8 L493.6,608.7 M470.4,615.8 L471.4,617.6 L472.7,619.1 L474.4,618.2 M493.1,574.5 L493.0,576.5 L491.2,577.5 L490.0,579.0 L488.0,578.8 M482.3,556.9 L484.1,557.7 L484.8,559.6 L486.0,561.2 L484.7,562.7 L485.0,564.7 M460.9,579.8 L462.6,578.7 L464.2,577.6 M451.8,538.9 L452.7,537.1 L453.1,535.1 L451.9,533.5 L450.0,532.9 L449.4,531.0 M466.2,530.9 L468.2,530.6 L470.0,531.6 M484.2,530.4 L482.6,529.3 L482.6,527.3 L482.3,525.3 M455.8,578.0 L457.5,577.0 L459.5,576.9 M476.5,589.6 L478.3,588.9 L480.2,588.2 M491.6,545.1 L489.6,545.3 L488.5,543.6 L486.6,543.1 L485.2,544.6 M501.5,576.5 L503.4,577.2 L505.4,577.0 M453.5,592.0 L455.1,590.9 L456.6,589.5 L458.2,590.6 L460.2,590.8 M509.0,560.3 L507.4,561.5 L508.4,563.3 L509.6,564.8 M492.2,584.7 L494.2,585.0 L495.2,586.7 L497.0,585.8 M448.5,582.5 L447.4,580.8 L448.9,579.6 L450.8,578.8 M513.9,601.4 L515.5,602.6 L517.2,603.8 M474.8,560.1 L474.6,558.1 L475.8,556.5 L476.6,554.7 L478.3,553.6 M450.8,593.6 L451.3,591.7 L453.2,591.1 L452.7,589.1 L450.7,588.9 M461.9,562.7 L463.9,562.8 L465.8,562.1 L466.4,560.2 L465.9,558.3 L464.4,557.0 M464.8,598.5 L464.1,600.4 L462.5,601.6 L463.3,603.4 M504.2,536.1 L505.7,534.7 L507.3,533.6 L508.8,532.2 L509.7,530.4 M470.4,534.8 L471.1,536.7 L473.0,537.4 L474.9,536.8 M499.0,534.9 L500.5,533.7 L500.8,531.7 L502.0,530.2 M462.2,538.5 L461.6,540.4 L461.6,542.4 L463.5,542.9 M511.4,591.6 L513.4,592.0 L514.0,593.9 L515.8,594.7 L517.6,595.7 L518.8,594.1 M493.4,541.7 L491.8,540.6 L490.1,541.7 L489.0,540.0 M472.9,598.5 L474.9,598.5 L475.7,600.3 L477.6,599.8 M486.7,543.5 L485.1,544.6 L483.1,544.8 L481.7,543.4 L480.0,542.3 L478.1,542.9 M479.3,594.4 L479.3,592.4 L481.3,592.6 L481.2,594.6 L479.7,595.9 L479.0,597.7 M481.5,614.0 L479.6,614.4 L477.9,613.3 L475.9,613.5 L474.2,614.6 M506.6,566.4 L506.8,568.4 L507.1,570.4 L505.7,571.8 M464.4,613.2 L466.4,613.4 L467.2,611.6 L469.0,610.6 L468.6,608.7 M459.1,595.7 L460.3,594.1 L459.9,592.2 L461.5,591.1 L463.5,591.6 M457.7,598.2 L458.7,596.5 L458.0,594.6 L456.0,594.9 L454.0,595.1 M462.6,587.9 L464.6,587.7 L465.6,586.0 L467.6,585.6 L469.6,585.4 L471.6,585.2 M460.3,572.9 L459.0,571.4 L460.4,570.0 L461.9,568.7 M509.4,563.5 L509.1,561.5 L508.1,559.7 L508.1,557.7 L508.9,555.9 L510.9,556.2 M474.9,579.4 L472.9,578.9 L471.7,577.3 L469.9,576.4 L469.1,574.6 L470.9,573.7 M477.6,599.5 L476.7,601.4 L475.3,602.8 L473.4,602.4 L473.7,600.5 L475.7,600.8 M476.9,579.4 L477.8,577.6 L476.6,576.1 L475.4,574.5 M489.6,614.8 L490.3,613.0 L491.6,611.5 L490.3,610.1 L491.3,608.4 L489.7,607.2" fill="none" stroke="#a01818" stroke-width="1.0" stroke-linecap="round" stroke-linejoin="round"/>
<path d=" M497.6,571.3 L498.2,569.4 L497.7,567.5 L498.2,565.5 L498.4,563.5 M490.4,555.1 L490.6,553.2 L489.1,551.9 L487.2,551.4 M497.5,596.9 L499.5,596.8 L501.5,596.6 L503.1,597.9 M480.3,604.6 L479.8,602.7 L478.1,601.6 L476.8,600.1 M453.5,580.1 L455.3,579.2 L455.3,577.2 L457.2,576.5 L458.5,575.1 L458.2,573.1 M503.6,612.8 L501.7,612.3 L500.5,610.7 L498.7,611.6 L497.3,613.0 L495.3,612.9 M498.4,613.4 L496.4,613.3 L495.6,615.1 M482.8,587.9 L482.1,586.1 L483.4,584.6 L484.4,582.8 L483.8,581.0 M480.8,565.6 L479.4,564.2 L477.9,565.5 L476.2,566.6 M462.1,572.8 L463.1,571.1 L462.0,569.4 M489.7,561.7 L491.0,563.2 L492.9,562.7 M470.1,595.4 L470.3,597.4 L472.1,598.4 L473.7,599.5 L475.6,599.1 L476.5,597.2 M449.0,562.4 L450.6,563.6 L452.6,563.8 M502.6,583.7 L502.8,581.7 L502.4,579.8 L504.4,579.5 M477.0,574.0 L476.1,575.8 L476.2,577.8 L474.5,578.8 M475.2,594.9 L476.1,596.7 L477.0,598.5 M483.5,568.9 L485.4,568.5 L486.8,569.9 L488.0,571.6 L489.3,573.0 L491.3,572.6 M460.8,577.8 L460.7,579.8 L462.7,580.1 L462.6,582.1 L464.5,582.8 L465.9,581.3 M473.1,547.5 L471.1,547.9 L470.1,546.2 M462.6,551.8 L461.9,549.9 L462.8,548.1 L461.7,546.4 M507.2,613.5 L509.0,614.3 L510.9,615.1 M497.5,604.7 L495.5,604.3 L493.6,605.0 L492.8,606.8 L493.6,608.7 M470.4,615.8 L471.4,617.6 L472.7,619.1 L474.4,618.2 M493.1,574.5 L493.0,576.5 L491.2,577.5 L490.0,579.0 L488.0,578.8 M482.3,556.9 L484.1,557.7 L484.8,559.6 L486.0,561.2 L484.7,562.7 L485.0,564.7 M460.9,579.8 L462.6,578.7 L464.2,577.6 M451.8,538.9 L452.7,537.1 L453.1,535.1 L451.9,533.5 L450.0,532.9 L449.4,531.0 M466.2,530.9 L468.2,530.6 L470.0,531.6 M484.2,530.4 L482.6,529.3 L482.6,527.3 L482.3,525.3 M455.8,578.0 L457.5,577.0 L459.5,576.9 M476.5,589.6 L478.3,588.9 L480.2,588.2 M491.6,545.1 L489.6,545.3 L488.5,543.6 L486.6,543.1 L485.2,544.6 M501.5,576.5 L503.4,577.2 L505.4,577.0 M453.5,592.0 L455.1,590.9 L456.6,589.5 L458.2,590.6 L460.2,590.8 M509.0,560.3 L507.4,561.5 L508.4,563.3 L509.6,564.8 M492.2,584.7 L494.2,585.0 L495.2,586.7 L497.0,585.8 M448.5,582.5 L447.4,580.8 L448.9,579.6 L450.8,578.8 M513.9,601.4 L515.5,602.6 L517.2,603.8 M474.8,560.1 L474.6,558.1 L475.8,556.5 L476.6,554.7 L478.3,553.6 M450.8,593.6 L451.3,591.7 L453.2,591.1 L452.7,589.1 L450.7,588.9 M461.9,562.7 L463.9,562.8 L465.8,562.1 L466.4,560.2 L465.9,558.3 L464.4,557.0 M464.8,598.5 L464.1,600.4 L462.5,601.6 L463.3,603.4 M504.2,536.1 L505.7,534.7 L507.3,533.6 L508.8,532.2 L509.7,530.4 M470.4,534.8 L471.1,536.7 L473.0,537.4 L474.9,536.8 M499.0,534.9 L500.5,533.7 L500.8,531.7 L502.0,530.2 M462.2,538.5 L461.6,540.4 L461.6,542.4 L463.5,542.9 M511.4,591.6 L513.4,592.0 L514.0,593.9 L515.8,594.7 L517.6,595.7 L518.8,594.1 M493.4,541.7 L491.8,540.6 L490.1,541.7 L489.0,540.0 M472.9,598.5 L474.9,598.5 L475.7,600.3 L477.6,599.8 M486.7,543.5 L485.1,544.6 L483.1,544.8 L481.7,543.4 L480.0,542.3 L478.1,542.9 M479.3,594.4 L479.3,592.4 L481.3,592.6 L481.2,594.6 L479.7,595.9 L479.0,597.7 M481.5,614.0 L479.6,614.4 L477.9,613.3 L475.9,613.5 L474.2,614.6 M506.6,566.4 L506.8,568.4 L507.1,570.4 L505.7,571.8 M464.4,613.2 L466.4,613.4 L467.2,611.6 L469.0,610.6 L468.6,608.7 M459.1,595.7 L460.3,594.1 L459.9,592.2 L461.5,591.1 L463.5,591.6 M457.7,598.2 L458.7,596.5 L458.0,594.6 L456.0,594.9 L454.0,595.1 M462.6,587.9 L464.6,587.7 L465.6,586.0 L467.6,585.6 L469.6,585.4 L471.6,585.2 M460.3,572.9 L459.0,571.4 L460.4,570.0 L461.9,568.7 M509.4,563.5 L509.1,561.5 L508.1,559.7 L508.1,557.7 L508.9,555.9 L510.9,556.2 M474.9,579.4 L472.9,578.9 L471.7,577.3 L469.9,576.4 L469.1,574.6 L470.9,573.7 M477.6,599.5 L476.7,601.4 L475.3,602.8 L473.4,602.4 L473.7,600.5 L475.7,600.8 M476.9,579.4 L477.8,577.6 L476.6,576.1 L475.4,574.5 M489.6,614.8 L490.3,613.0 L491.6,611.5 L490.3,610.1 L491.3,608.4 L489.7,607.2" fill="none" stroke="#e83030" stroke-width="2.1" stroke-linecap="round" stroke-dasharray="0.1 1.9"/>
<path d=" M455.1,605.9 L456.5,607.3 L458.4,606.9 L460.3,606.1 L460.6,604.1 L462.3,603.1 M479.2,578.5 L480.4,580.2 L480.5,582.2 M509.8,550.2 L509.5,548.3 L509.8,546.3 L510.4,544.4 L512.3,543.8 L514.3,544.1 M504.1,595.6 L503.8,593.6 L502.9,591.8 L501.0,592.3 M495.3,591.2 L497.2,590.5 L497.2,588.5 L497.3,586.6 L496.7,584.6 L497.0,582.7 M448.0,542.0 L446.2,541.2 L446.4,539.2 L445.1,537.6 L443.3,538.5 M450.8,567.6 L448.9,566.8 L446.9,566.9 M508.9,589.6 L509.9,587.9 L511.6,588.9 L513.0,590.4 M458.0,595.8 L456.6,597.2 L454.6,597.4 M466.2,606.0 L465.5,604.1 L465.4,602.1 L466.4,600.3 L466.3,598.3 L468.2,597.9 M457.2,593.2 L455.4,594.0 L455.7,595.9 M469.0,570.0 L467.2,570.9 L465.5,570.0 L465.0,568.0 L466.4,566.6 L467.5,564.9 M484.6,617.7 L486.1,619.0 L486.6,620.9 L484.8,621.9 L484.4,623.8 M497.0,563.0 L496.4,561.1 L494.7,560.1 L492.7,560.0 L491.4,561.6 M499.2,596.1 L500.4,594.5 L501.7,593.0 M475.6,610.3 L476.6,608.6 L476.3,606.6 L477.1,604.8 L479.1,604.6 L480.7,603.4 M501.2,539.0 L503.2,538.9 L504.0,540.7 M487.8,554.7 L487.4,556.6 L487.3,558.6 L485.5,559.3 L485.4,561.3 M479.2,541.2 L477.6,542.4 L475.6,542.3 L474.6,544.1 L475.5,545.8 L477.3,546.7 M501.1,572.3 L499.1,572.4 L498.5,570.5 L497.8,568.6 L498.0,566.6 M487.4,601.6 L485.7,600.5 L483.7,600.6 L481.8,601.1 L479.9,600.5 M480.8,577.9 L482.6,577.1 L482.3,575.1 M490.4,550.7 L491.0,548.8 L493.0,548.9 L494.7,547.7 L494.0,545.9 L495.1,544.2 M455.2,601.2 L454.9,599.2 L453.0,599.4 L452.1,601.2 L450.2,601.9 M461.5,570.9 L462.1,572.8 L464.0,572.3 M454.1,564.0 L452.1,563.6 L450.3,562.8 L448.6,561.6 L446.8,560.9 M483.2,593.0 L483.9,594.9 L485.4,596.2 L487.2,597.1 M453.3,612.3 L455.3,612.7 L455.1,614.7 L453.3,615.7 L453.9,617.6 L455.8,617.0 M481.1,578.6 L483.1,578.5 L485.1,578.2 M461.7,584.4 L463.6,585.2 L465.5,584.8 M508.9,570.0 L510.8,569.5 L512.5,570.6 L514.5,570.4 M463.8,610.4 L464.5,608.5 L464.1,606.6 L463.7,604.6 L464.9,603.0 M461.6,576.3 L463.5,576.9 L463.9,578.9 M466.1,555.2 L465.6,557.1 L464.2,558.6 L462.7,559.9 L461.0,560.9 L459.0,561.3 M472.2,548.2 L470.6,547.0 L470.6,545.0 L468.7,544.4 L467.0,543.4 M474.0,592.1 L475.7,591.1 L477.7,591.5 L478.3,593.4 L480.2,592.9 L482.2,593.0 M496.6,594.3 L495.2,592.9 L493.9,594.3 L492.7,595.9 L492.0,597.8 L493.3,599.3 M503.3,581.0 L502.1,579.4 L501.1,577.6 L499.1,577.7 L497.1,577.7 M457.5,594.6 L459.2,593.6 L458.2,591.8 L457.9,589.9 L458.1,587.9 L456.1,587.5 M468.7,538.8 L467.8,540.5 L468.9,542.2 L468.8,544.2 L467.8,545.9 L467.7,547.9 M475.4,536.4 L475.1,534.4 L476.4,532.9 M472.4,574.2 L473.4,575.9 L472.7,577.8 L470.8,577.1 M504.4,568.2 L506.4,567.9 L508.3,568.6 M450.7,599.2 L451.3,601.1 L452.8,602.5 L454.3,601.2 M466.6,583.4 L465.9,585.2 L464.0,586.0 L462.2,586.7 L461.7,588.7 L459.8,588.2 M504.8,603.9 L505.4,605.8 L506.1,607.7 L504.9,609.3 L503.0,608.7 M468.6,603.2 L468.8,601.2 L466.9,600.4 M453.1,584.6 L452.1,586.4 L451.8,588.4 M478.1,568.3 L478.5,566.4 L479.6,564.7 L481.5,564.0 M448.6,565.0 L450.6,565.2 L450.9,563.3 L451.3,561.3 L453.0,560.2 M469.2,586.5 L471.2,586.1 L472.6,587.4 L474.6,588.0 L475.4,586.2 M466.0,571.2 L466.8,573.0 L468.7,573.5 L470.3,574.8 L469.6,576.7 L468.9,578.6 M510.8,574.5 L512.0,572.9 L513.9,572.5 L514.2,570.5 L515.5,569.0 L514.4,567.4 M488.5,561.5 L490.5,561.5 L490.9,559.6 L489.6,558.0 L487.6,557.9 M454.1,567.2 L456.1,567.5 L457.3,566.0 L458.3,564.2 L460.3,564.2 M476.4,540.6 L478.3,540.2 L479.8,541.6 L478.5,543.2 L476.8,544.3 L474.9,543.7 M485.2,613.2 L485.7,615.1 L484.2,616.4 L482.4,615.6 L480.4,615.3 M492.9,605.1 L491.1,604.2 L489.2,604.5 M456.8,560.4 L457.3,562.3 L459.2,562.8 M465.4,610.5 L466.8,609.2 L468.4,610.4 L467.7,612.3 L466.8,614.0 M473.2,583.3 L475.1,583.8 L475.9,582.0 M470.4,614.8 L471.6,613.2 L470.0,612.0 L470.6,610.1 L470.2,608.1" fill="none" stroke="#a01818" stroke-width="1.0" stroke-linecap="round" stroke-linejoin="round"/>
<path d=" M455.1,605.9 L456.5,607.3 L458.4,606.9 L460.3,606.1 L460.6,604.1 L462.3,603.1 M479.2,578.5 L480.4,580.2 L480.5,582.2 M509.8,550.2 L509.5,548.3 L509.8,546.3 L510.4,544.4 L512.3,543.8 L514.3,544.1 M504.1,595.6 L503.8,593.6 L502.9,591.8 L501.0,592.3 M495.3,591.2 L497.2,590.5 L497.2,588.5 L497.3,586.6 L496.7,584.6 L497.0,582.7 M448.0,542.0 L446.2,541.2 L446.4,539.2 L445.1,537.6 L443.3,538.5 M450.8,567.6 L448.9,566.8 L446.9,566.9 M508.9,589.6 L509.9,587.9 L511.6,588.9 L513.0,590.4 M458.0,595.8 L456.6,597.2 L454.6,597.4 M466.2,606.0 L465.5,604.1 L465.4,602.1 L466.4,600.3 L466.3,598.3 L468.2,597.9 M457.2,593.2 L455.4,594.0 L455.7,595.9 M469.0,570.0 L467.2,570.9 L465.5,570.0 L465.0,568.0 L466.4,566.6 L467.5,564.9 M484.6,617.7 L486.1,619.0 L486.6,620.9 L484.8,621.9 L484.4,623.8 M497.0,563.0 L496.4,561.1 L494.7,560.1 L492.7,560.0 L491.4,561.6 M499.2,596.1 L500.4,594.5 L501.7,593.0 M475.6,610.3 L476.6,608.6 L476.3,606.6 L477.1,604.8 L479.1,604.6 L480.7,603.4 M501.2,539.0 L503.2,538.9 L504.0,540.7 M487.8,554.7 L487.4,556.6 L487.3,558.6 L485.5,559.3 L485.4,561.3 M479.2,541.2 L477.6,542.4 L475.6,542.3 L474.6,544.1 L475.5,545.8 L477.3,546.7 M501.1,572.3 L499.1,572.4 L498.5,570.5 L497.8,568.6 L498.0,566.6 M487.4,601.6 L485.7,600.5 L483.7,600.6 L481.8,601.1 L479.9,600.5 M480.8,577.9 L482.6,577.1 L482.3,575.1 M490.4,550.7 L491.0,548.8 L493.0,548.9 L494.7,547.7 L494.0,545.9 L495.1,544.2 M455.2,601.2 L454.9,599.2 L453.0,599.4 L452.1,601.2 L450.2,601.9 M461.5,570.9 L462.1,572.8 L464.0,572.3 M454.1,564.0 L452.1,563.6 L450.3,562.8 L448.6,561.6 L446.8,560.9 M483.2,593.0 L483.9,594.9 L485.4,596.2 L487.2,597.1 M453.3,612.3 L455.3,612.7 L455.1,614.7 L453.3,615.7 L453.9,617.6 L455.8,617.0 M481.1,578.6 L483.1,578.5 L485.1,578.2 M461.7,584.4 L463.6,585.2 L465.5,584.8 M508.9,570.0 L510.8,569.5 L512.5,570.6 L514.5,570.4 M463.8,610.4 L464.5,608.5 L464.1,606.6 L463.7,604.6 L464.9,603.0 M461.6,576.3 L463.5,576.9 L463.9,578.9 M466.1,555.2 L465.6,557.1 L464.2,558.6 L462.7,559.9 L461.0,560.9 L459.0,561.3 M472.2,548.2 L470.6,547.0 L470.6,545.0 L468.7,544.4 L467.0,543.4 M474.0,592.1 L475.7,591.1 L477.7,591.5 L478.3,593.4 L480.2,592.9 L482.2,593.0 M496.6,594.3 L495.2,592.9 L493.9,594.3 L492.7,595.9 L492.0,597.8 L493.3,599.3 M503.3,581.0 L502.1,579.4 L501.1,577.6 L499.1,577.7 L497.1,577.7 M457.5,594.6 L459.2,593.6 L458.2,591.8 L457.9,589.9 L458.1,587.9 L456.1,587.5 M468.7,538.8 L467.8,540.5 L468.9,542.2 L468.8,544.2 L467.8,545.9 L467.7,547.9 M475.4,536.4 L475.1,534.4 L476.4,532.9 M472.4,574.2 L473.4,575.9 L472.7,577.8 L470.8,577.1 M504.4,568.2 L506.4,567.9 L508.3,568.6 M450.7,599.2 L451.3,601.1 L452.8,602.5 L454.3,601.2 M466.6,583.4 L465.9,585.2 L464.0,586.0 L462.2,586.7 L461.7,588.7 L459.8,588.2 M504.8,603.9 L505.4,605.8 L506.1,607.7 L504.9,609.3 L503.0,608.7 M468.6,603.2 L468.8,601.2 L466.9,600.4 M453.1,584.6 L452.1,586.4 L451.8,588.4 M478.1,568.3 L478.5,566.4 L479.6,564.7 L481.5,564.0 M448.6,565.0 L450.6,565.2 L450.9,563.3 L451.3,561.3 L453.0,560.2 M469.2,586.5 L471.2,586.1 L472.6,587.4 L474.6,588.0 L475.4,586.2 M466.0,571.2 L466.8,573.0 L468.7,573.5 L470.3,574.8 L469.6,576.7 L468.9,578.6 M510.8,574.5 L512.0,572.9 L513.9,572.5 L514.2,570.5 L515.5,569.0 L514.4,567.4 M488.5,561.5 L490.5,561.5 L490.9,559.6 L489.6,558.0 L487.6,557.9 M454.1,567.2 L456.1,567.5 L457.3,566.0 L458.3,564.2 L460.3,564.2 M476.4,540.6 L478.3,540.2 L479.8,541.6 L478.5,543.2 L476.8,544.3 L474.9,543.7 M485.2,613.2 L485.7,615.1 L484.2,616.4 L482.4,615.6 L480.4,615.3 M492.9,605.1 L491.1,604.2 L489.2,604.5 M456.8,560.4 L457.3,562.3 L459.2,562.8 M465.4,610.5 L466.8,609.2 L468.4,610.4 L467.7,612.3 L466.8,614.0 M473.2,583.3 L475.1,583.8 L475.9,582.0 M470.4,614.8 L471.6,613.2 L470.0,612.0 L470.6,610.1 L470.2,608.1" fill="none" stroke="#c81818" stroke-width="2.1" stroke-linecap="round" stroke-dasharray="0.1 1.9"/>
<path d=" M490.1,549.7 L489.1,548.0 L489.5,546.0 L491.1,544.8 L493.0,544.5 M501.5,580.1 L502.8,578.6 L501.8,576.9 L503.3,575.6 M452.5,603.4 L451.5,605.1 L450.5,606.9 L449.8,608.7 L450.4,610.6 L449.7,612.5 M493.2,562.0 L491.8,560.5 L491.2,558.6 L490.1,556.9 M466.8,539.0 L468.4,537.8 L470.3,537.4 L471.2,539.2 L473.2,539.2 M489.3,593.1 L491.3,593.4 L491.1,595.4 L489.1,595.2 M464.3,610.4 L465.9,611.6 L466.1,613.5 L464.3,614.3 M499.3,604.3 L498.7,602.4 L500.6,601.8 L502.2,600.7 M485.5,611.2 L485.8,609.3 L487.4,608.2 L487.1,606.2 M481.3,608.4 L479.3,608.4 L478.9,610.3 L477.0,611.1 M504.1,576.5 L502.6,577.8 L503.0,579.8 L502.0,581.5 L503.6,582.8 M467.6,599.4 L469.0,598.0 L470.9,598.7 L471.7,596.9 L472.9,595.3 M486.7,595.8 L485.8,597.6 L486.9,599.3 L487.4,601.2 M471.7,588.4 L472.4,590.2 L471.6,592.0 L472.9,593.5 M512.2,595.8 L510.3,595.0 L508.6,594.1 L509.4,592.3 M486.2,589.0 L488.1,588.7 L488.6,586.8 L487.2,585.3 L485.5,586.2 L483.7,587.1 M479.2,559.8 L477.8,558.3 L475.8,558.5 M471.8,558.6 L473.8,558.6 L475.2,557.1 L477.1,557.5 M494.0,565.3 L492.1,565.8 L490.4,564.7 L488.7,563.6 L486.7,563.7 L485.0,564.6 M471.9,597.2 L473.3,598.6 L472.9,600.6 L474.7,601.5 M451.7,589.0 L450.1,587.8 L448.2,587.4 L448.0,585.4 L446.7,583.9 M475.9,583.0 L476.3,581.1 L474.6,580.0 L474.1,578.1 L474.8,576.2 L474.2,574.3 M499.9,582.5 L500.6,580.7 L502.6,581.1 L502.9,583.0 L501.4,584.4 L499.6,585.1 M481.1,573.4 L483.0,574.1 L484.5,575.3 L486.2,576.5 M488.0,533.1 L486.8,534.8 L485.4,536.2 L483.4,536.5 M504.0,604.0 L506.0,603.5 L507.9,602.8 L509.5,604.0 M494.8,565.4 L492.8,564.8 L491.7,563.2 M466.8,583.0 L467.9,581.3 L468.3,579.3 M507.0,603.3 L509.0,603.1 L510.6,601.8 L512.5,602.1 L512.9,600.2 M453.3,604.8 L453.3,606.8 L451.3,606.8 L450.7,604.9 L449.5,603.3 L450.9,601.9 M495.5,565.7 L495.7,567.7 L493.8,568.3 L492.2,569.4 M511.4,540.6 L509.6,541.5 L508.4,543.1 M468.5,552.6 L467.4,551.0 L468.9,549.7 L468.5,547.7 L466.6,547.1 M461.6,576.0 L463.0,574.5 L462.2,572.7 L461.4,570.8 M508.5,565.6 L510.4,565.0 L511.8,563.6 L513.7,564.4 L515.4,563.4 L517.0,562.2 M475.3,558.5 L473.3,558.6 L471.7,557.3 L469.7,557.0 L468.8,558.8 M493.4,600.0 L491.5,599.8 L490.5,598.0 L488.5,597.8 L486.7,597.0 M459.0,578.8 L461.0,578.7 L462.8,579.6 L464.8,579.6 M508.7,592.8 L509.8,594.5 L511.6,595.5 L512.1,597.4 L513.7,598.7 M479.5,605.6 L479.8,607.6 L481.0,609.3 M475.7,550.4 L477.5,551.3 L479.2,552.4 M476.5,603.9 L474.6,603.6 L474.9,601.6 M472.8,611.9 L472.7,613.9 L473.4,615.8 L472.9,617.8 L471.6,619.3 L470.6,621.0 M488.3,617.8 L488.6,615.9 L490.1,614.5 L489.2,612.6 L487.3,613.1 M466.0,586.8 L467.8,586.0 L468.3,584.1 M484.7,603.4 L483.6,601.7 L482.1,600.4 M497.6,551.2 L498.8,549.7 L497.7,548.0 L495.8,548.7 L495.7,550.7 L496.0,552.7 M484.3,594.6 L483.1,596.2 L482.5,598.1 M507.8,572.6 L506.2,571.5 L506.3,569.5 M458.1,611.0 L456.5,609.8 L454.5,610.1 M458.1,545.4 L458.2,543.4 L457.4,541.6 L458.2,539.7 L459.8,538.4 L460.5,536.6 M486.2,605.8 L485.7,607.7 L487.2,609.0 M487.5,553.4 L485.7,552.4 L483.7,552.0 L482.9,553.9 L482.6,555.8 M486.4,540.5 L488.2,541.4 L490.2,541.5 M478.0,571.5 L479.9,570.9 L481.8,571.4 M458.2,557.8 L460.2,558.1 L460.8,556.2 L459.2,555.0 L457.2,555.0 M447.6,561.2 L449.1,559.9 L447.7,558.4 L445.7,558.1 L443.9,558.8 M482.1,561.5 L483.4,563.1 L485.2,564.0 L486.8,565.1 L488.7,564.4 M468.2,581.9 L469.9,583.0 L470.5,584.9 L472.2,586.1 M457.0,598.7 L455.1,599.4 L453.2,598.8 M478.5,534.5 L479.5,532.8 L477.8,531.7 L476.3,533.0 L474.8,534.5 M505.5,573.7 L505.7,575.7 L506.9,577.3 L506.1,579.1" fill="none" stroke="#a01818" stroke-width="1.0" stroke-linecap="round" stroke-linejoin="round"/>
<path d=" M490.1,549.7 L489.1,548.0 L489.5,546.0 L491.1,544.8 L493.0,544.5 M501.5,580.1 L502.8,578.6 L501.8,576.9 L503.3,575.6 M452.5,603.4 L451.5,605.1 L450.5,606.9 L449.8,608.7 L450.4,610.6 L449.7,612.5 M493.2,562.0 L491.8,560.5 L491.2,558.6 L490.1,556.9 M466.8,539.0 L468.4,537.8 L470.3,537.4 L471.2,539.2 L473.2,539.2 M489.3,593.1 L491.3,593.4 L491.1,595.4 L489.1,595.2 M464.3,610.4 L465.9,611.6 L466.1,613.5 L464.3,614.3 M499.3,604.3 L498.7,602.4 L500.6,601.8 L502.2,600.7 M485.5,611.2 L485.8,609.3 L487.4,608.2 L487.1,606.2 M481.3,608.4 L479.3,608.4 L478.9,610.3 L477.0,611.1 M504.1,576.5 L502.6,577.8 L503.0,579.8 L502.0,581.5 L503.6,582.8 M467.6,599.4 L469.0,598.0 L470.9,598.7 L471.7,596.9 L472.9,595.3 M486.7,595.8 L485.8,597.6 L486.9,599.3 L487.4,601.2 M471.7,588.4 L472.4,590.2 L471.6,592.0 L472.9,593.5 M512.2,595.8 L510.3,595.0 L508.6,594.1 L509.4,592.3 M486.2,589.0 L488.1,588.7 L488.6,586.8 L487.2,585.3 L485.5,586.2 L483.7,587.1 M479.2,559.8 L477.8,558.3 L475.8,558.5 M471.8,558.6 L473.8,558.6 L475.2,557.1 L477.1,557.5 M494.0,565.3 L492.1,565.8 L490.4,564.7 L488.7,563.6 L486.7,563.7 L485.0,564.6 M471.9,597.2 L473.3,598.6 L472.9,600.6 L474.7,601.5 M451.7,589.0 L450.1,587.8 L448.2,587.4 L448.0,585.4 L446.7,583.9 M475.9,583.0 L476.3,581.1 L474.6,580.0 L474.1,578.1 L474.8,576.2 L474.2,574.3 M499.9,582.5 L500.6,580.7 L502.6,581.1 L502.9,583.0 L501.4,584.4 L499.6,585.1 M481.1,573.4 L483.0,574.1 L484.5,575.3 L486.2,576.5 M488.0,533.1 L486.8,534.8 L485.4,536.2 L483.4,536.5 M504.0,604.0 L506.0,603.5 L507.9,602.8 L509.5,604.0 M494.8,565.4 L492.8,564.8 L491.7,563.2 M466.8,583.0 L467.9,581.3 L468.3,579.3 M507.0,603.3 L509.0,603.1 L510.6,601.8 L512.5,602.1 L512.9,600.2 M453.3,604.8 L453.3,606.8 L451.3,606.8 L450.7,604.9 L449.5,603.3 L450.9,601.9 M495.5,565.7 L495.7,567.7 L493.8,568.3 L492.2,569.4 M511.4,540.6 L509.6,541.5 L508.4,543.1 M468.5,552.6 L467.4,551.0 L468.9,549.7 L468.5,547.7 L466.6,547.1 M461.6,576.0 L463.0,574.5 L462.2,572.7 L461.4,570.8 M508.5,565.6 L510.4,565.0 L511.8,563.6 L513.7,564.4 L515.4,563.4 L517.0,562.2 M475.3,558.5 L473.3,558.6 L471.7,557.3 L469.7,557.0 L468.8,558.8 M493.4,600.0 L491.5,599.8 L490.5,598.0 L488.5,597.8 L486.7,597.0 M459.0,578.8 L461.0,578.7 L462.8,579.6 L464.8,579.6 M508.7,592.8 L509.8,594.5 L511.6,595.5 L512.1,597.4 L513.7,598.7 M479.5,605.6 L479.8,607.6 L481.0,609.3 M475.7,550.4 L477.5,551.3 L479.2,552.4 M476.5,603.9 L474.6,603.6 L474.9,601.6 M472.8,611.9 L472.7,613.9 L473.4,615.8 L472.9,617.8 L471.6,619.3 L470.6,621.0 M488.3,617.8 L488.6,615.9 L490.1,614.5 L489.2,612.6 L487.3,613.1 M466.0,586.8 L467.8,586.0 L468.3,584.1 M484.7,603.4 L483.6,601.7 L482.1,600.4 M497.6,551.2 L498.8,549.7 L497.7,548.0 L495.8,548.7 L495.7,550.7 L496.0,552.7 M484.3,594.6 L483.1,596.2 L482.5,598.1 M507.8,572.6 L506.2,571.5 L506.3,569.5 M458.1,611.0 L456.5,609.8 L454.5,610.1 M458.1,545.4 L458.2,543.4 L457.4,541.6 L458.2,539.7 L459.8,538.4 L460.5,536.6 M486.2,605.8 L485.7,607.7 L487.2,609.0 M487.5,553.4 L485.7,552.4 L483.7,552.0 L482.9,553.9 L482.6,555.8 M486.4,540.5 L488.2,541.4 L490.2,541.5 M478.0,571.5 L479.9,570.9 L481.8,571.4 M458.2,557.8 L460.2,558.1 L460.8,556.2 L459.2,555.0 L457.2,555.0 M447.6,561.2 L449.1,559.9 L447.7,558.4 L445.7,558.1 L443.9,558.8 M482.1,561.5 L483.4,563.1 L485.2,564.0 L486.8,565.1 L488.7,564.4 M468.2,581.9 L469.9,583.0 L470.5,584.9 L472.2,586.1 M457.0,598.7 L455.1,599.4 L453.2,598.8 M478.5,534.5 L479.5,532.8 L477.8,531.7 L476.3,533.0 L474.8,534.5 M505.5,573.7 L505.7,575.7 L506.9,577.3 L506.1,579.1" fill="none" stroke="#f04040" stroke-width="2.1" stroke-linecap="round" stroke-dasharray="0.1 1.9"/>
<path d="M306.30,741.10L306.30,735.10 M306.30,531.80L306.30,537.80 M327.22,741.10L327.22,737.90 M327.22,531.80L327.22,535.00 M348.14,741.10L348.14,735.10 M348.14,531.80L348.14,537.80 M369.06,741.10L369.06,737.90 M369.06,531.80L369.06,535.00 M389.98,741.10L389.98,735.10 M389.98,531.80L389.98,537.80 M410.90,741.10L410.90,737.90 M410.90,531.80L410.90,535.00 M431.82,741.10L431.82,735.10 M431.82,531.80L431.82,537.80 M452.74,741.10L452.74,737.90 M452.74,531.80L452.74,535.00 M473.66,741.10L473.66,735.10 M473.66,531.80L473.66,537.80 M494.58,741.10L494.58,737.90 M494.58,531.80L494.58,535.00 M515.50,741.10L515.50,735.10 M515.50,531.80L515.50,537.80 M306.30,741.10L312.30,741.10 M515.50,741.10L509.50,741.10 M306.30,706.22L309.50,706.22 M515.50,706.22L512.30,706.22 M306.30,671.33L312.30,671.33 M515.50,671.33L509.50,671.33 M306.30,636.45L309.50,636.45 M515.50,636.45L512.30,636.45 M306.30,601.57L312.30,601.57 M515.50,601.57L509.50,601.57 M306.30,566.68L309.50,566.68 M515.50,566.68L512.30,566.68 M306.30,531.80L312.30,531.80 M515.50,531.80L509.50,531.80" stroke="#3a3a3a" stroke-width="1.1" fill="none"/>
<text x="306.30" y="756.60" text-anchor="middle" font-size="17.0">0</text>
<text x="348.14" y="756.60" text-anchor="middle" font-size="17.0">5</text>
<text x="389.98" y="756.60" text-anchor="middle" font-size="17.0">10</text>
<text x="431.82" y="756.60" text-anchor="middle" font-size="17.0">15</text>
<text x="473.66" y="756.60" text-anchor="middle" font-size="17.0">20</text>
<text x="515.50" y="756.60" text-anchor="middle" font-size="17.0">25</text>
<text x="303.30" y="741.10" text-anchor="middle" font-size="16.5" transform="rotate(-90 303.30 741.10)">0</text>
<text x="303.30" y="671.33" text-anchor="middle" font-size="16.5" transform="rotate(-90 303.30 671.33)">5</text>
<text x="303.30" y="601.57" text-anchor="middle" font-size="16.5" transform="rotate(-90 303.30 601.57)">10</text>
<text x="303.30" y="531.80" text-anchor="middle" font-size="16.5" transform="rotate(-90 303.30 531.80)">15</text>
<text x="410.90" y="774.40" text-anchor="middle" font-size="21.5">X-coordinate (&#963;)</text>
<text x="286.50" y="636.00" text-anchor="middle" font-size="21.0" transform="rotate(-90 286.50 636.00)">count (#)</text>
<text x="262.3" y="521.2" font-size="23.5" textLength="32.7" lengthAdjust="spacingAndGlyphs">(F)</text>
<circle cx="431.9" cy="546.1" r="10.2" fill="#ff0000"/>
<rect x="306.30" y="531.80" width="209.20" height="209.30" fill="none" stroke="#3a3a3a" stroke-width="1.3"/>
</svg>
</body></html>
